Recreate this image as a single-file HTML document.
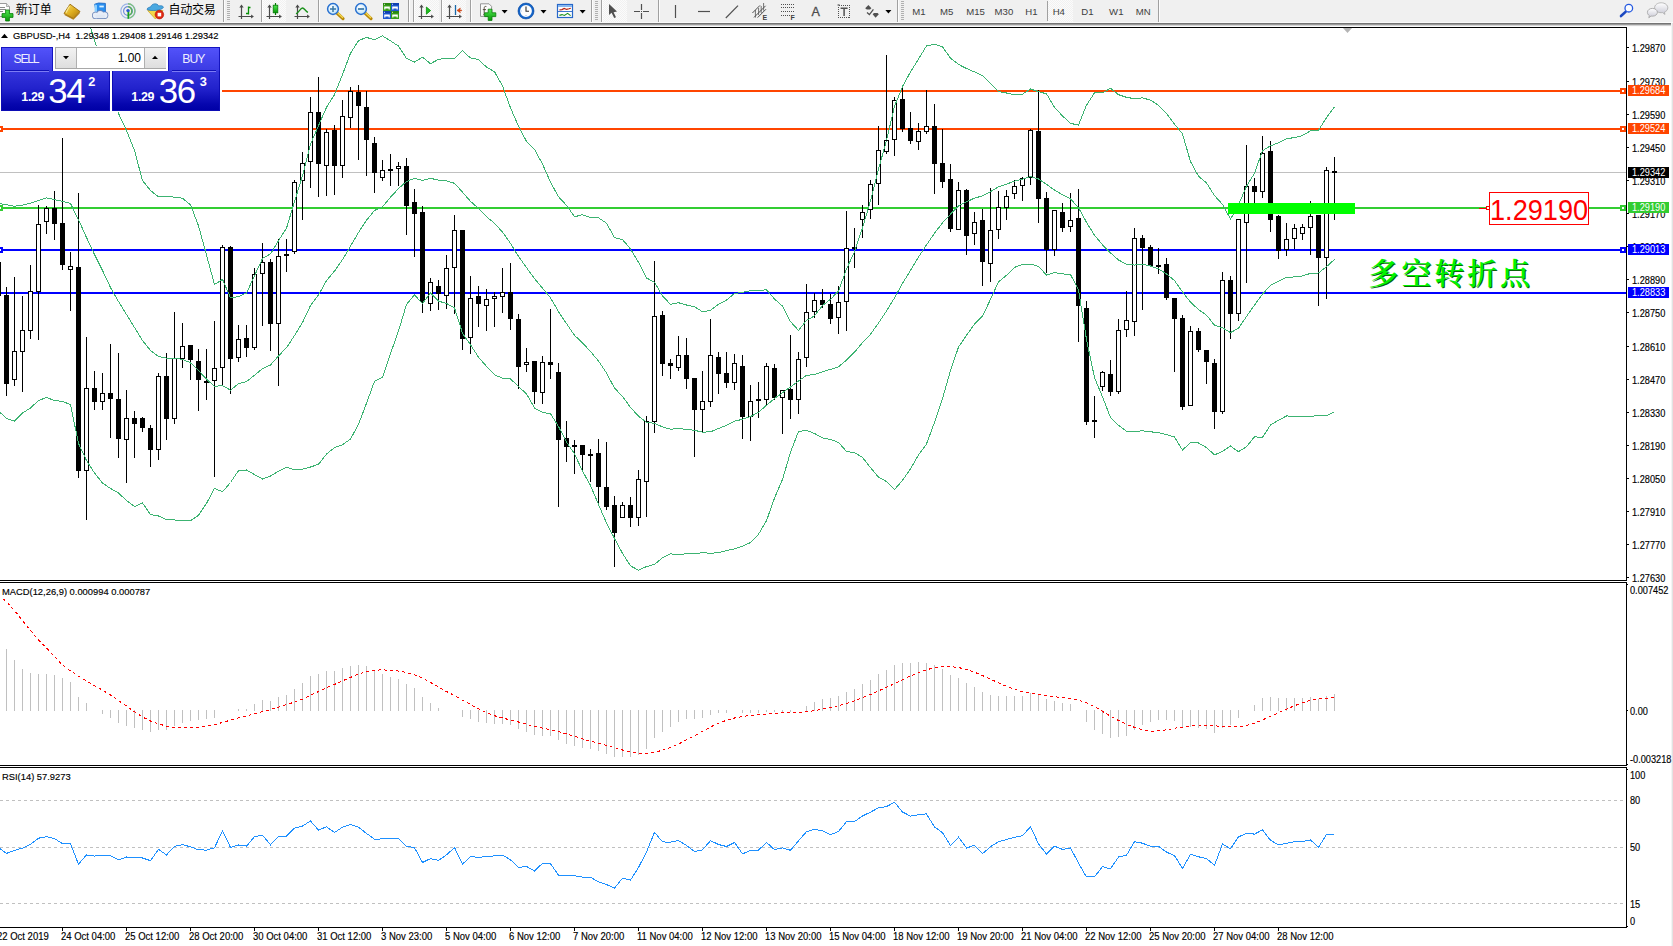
<!DOCTYPE html><html lang="zh"><head><meta charset="utf-8"><title>GBPUSD-,H4</title><style>
html,body{margin:0;padding:0;background:#fff;}
body{width:1673px;height:946px;overflow:hidden;position:relative;font-family:"Liberation Sans", sans-serif;font-size:9.6px;color:#000;}
.abs{position:absolute;}
.t{position:absolute;white-space:nowrap;line-height:12px;height:12px;}
.tt{position:absolute;white-space:nowrap;line-height:12px;height:12px;font-size:9.7px;transform:scaleX(0.966);transform-origin:0 0;-webkit-text-stroke:0.15px #000;}
.ax{position:absolute;left:1632px;white-space:nowrap;line-height:12px;height:12px;font-size:10px;transform:scaleX(0.92);transform-origin:0 0;-webkit-text-stroke:0.15px #000;}
.pl{position:absolute;left:1628px;width:41px;height:11px;color:#fff;font-size:10px;line-height:12px;white-space:nowrap;overflow:hidden;}
.pl span{display:block;transform:scaleX(0.92);transform-origin:0 0;margin-left:4px;}
.tl{position:absolute;top:930.5px;white-space:nowrap;line-height:12px;font-size:10px;transform:scaleX(0.95);transform-origin:0 0;-webkit-text-stroke:0.15px #000;}
.tb{position:absolute;top:0;height:22px;}
</style></head><body>
<div class="abs" style="left:0;top:0;width:1673px;height:22px;background:#f0f0f0"></div>
<div class="abs" style="left:0;top:22px;width:1673px;height:1px;background:#fafafa"></div>
<div class="abs" style="left:0;top:23px;width:1673px;height:1px;background:#747474"></div>
<div class="abs" style="left:0;top:24px;width:1673px;height:1px;background:#9c9c9c"></div>
<div class="abs" style="left:0;top:25px;width:1673px;height:1px;background:#d4d4d4"></div>
<div class="abs" style="left:0;top:26px;width:1673px;height:1px;background:#fbfbfb"></div>
<svg class="abs" style="left:0;top:0" width="1673" height="23" viewBox="0 0 1673 23">
<defs><pattern id="chk" width="2" height="2" patternUnits="userSpaceOnUse"><rect width="2" height="2" fill="#fbfbfb"/><rect width="1" height="1" fill="#f1f1f1"/><rect x="1" y="1" width="1" height="1" fill="#f1f1f1"/></pattern><linearGradient id="gold" x1="0" y1="0" x2="1" y2="1"><stop offset="0" stop-color="#f8e070"/><stop offset="0.5" stop-color="#e0b020"/><stop offset="1" stop-color="#a87410"/></linearGradient><linearGradient id="grn" x1="0" y1="0" x2="0" y2="1"><stop offset="0" stop-color="#50e850"/><stop offset="1" stop-color="#089808"/></linearGradient><radialGradient id="lens" cx="0.4" cy="0.35" r="0.7"><stop offset="0" stop-color="#ffffff"/><stop offset="1" stop-color="#b8e0f8"/></radialGradient><linearGradient id="bub" x1="0" y1="0" x2="0" y2="1"><stop offset="0" stop-color="#ffffff"/><stop offset="1" stop-color="#c8c8d4"/></linearGradient></defs>
<path d="M-2 3.5 H6.5 L9.5 6.5 V16.5 H-2 Z" fill="#fdfdfd" stroke="#9a9a9a" stroke-width="1"/>
<path d="M6.5 3.5 V6.5 H9.5" fill="#e0e0e0" stroke="#9a9a9a" stroke-width="0.8"/>
<path d="M0 7.5 H5 M0 9.5 H6 M0 11.5 H3" stroke="#8a8a8a" stroke-width="1"/>
<path d="M5.6 10 H9.4 V13.6 H13 V17.4 H9.4 V21 H5.6 V17.4 H2 V13.6 H5.6 Z" fill="url(#grn)" stroke="#067a06" stroke-width="0.8"/>
<path d="M70 4.2 L80 11.5 L73.5 18.5 L64 13.5 Z" fill="url(#gold)" stroke="#9a6a08" stroke-width="0.9" stroke-linejoin="round"/>
<path d="M65 14.2 L73.4 18.6 L79.8 12 L79.6 13.6 L73.4 19.8 L64.4 15 Z" fill="#b07c12"/>
<path d="M69.5 6 L66 12.6" stroke="#fff2a0" stroke-width="1.2" opacity="0.8"/>
<path d="M94.6 4.2 L98.6 3 L105.4 3.4 V12.6 H96.4 Z" fill="#2a90f0" stroke="#1060c0" stroke-width="0.8"/>
<path d="M94.6 4.2 L97 5.2 V13.6 L94.6 12.6 Z" fill="#8cd0ff"/>
<rect x="99.4" y="5.6" width="4.4" height="1.8" fill="#d8f0ff"/>
<circle cx="95.6" cy="15.4" r="3.6" fill="#6c86b8"/>
<circle cx="100.2" cy="14.0" r="3.9" fill="#6c86b8"/>
<circle cx="104.6" cy="15.2" r="3.7" fill="#6c86b8"/>
<rect x="95.6" y="15" width="9" height="4" fill="#6c86b8"/>
<circle cx="95.6" cy="15.4" r="2.8" fill="#e8eef8"/>
<circle cx="100.2" cy="14.0" r="3.0999999999999996" fill="#e8eef8"/>
<circle cx="104.6" cy="15.2" r="2.9" fill="#e8eef8"/>
<rect x="95.6" y="14.6" width="9" height="3.6" fill="#e0e8f4"/>
<circle cx="128" cy="11" r="7.2" fill="none" stroke="#9ab4e8" stroke-width="1.2"/>
<circle cx="128" cy="11" r="4.4" fill="none" stroke="#6c8cd8" stroke-width="1.2"/>
<path d="M128 3.8 a7.2 7.2 0 0 1 2 14" fill="none" stroke="#7cc07c" stroke-width="1.4"/>
<path d="M128 6.6 a4.4 4.4 0 0 1 1.6 8.2" fill="none" stroke="#58b058" stroke-width="1.4"/>
<path d="M128.4 11 V18.8" stroke="#18a018" stroke-width="1.8"/>
<circle cx="128" cy="10.6" r="1.7" fill="#2858d0"/>
<path d="M147.6 10.5 L158 10 L163 10.6 L155.4 19 Z" fill="#f4d848" stroke="#c8a020" stroke-width="0.7"/>
<path d="M147 9.4 C147.4 7.2 150 7.4 151 6.6 C151.4 3.4 157.6 2.6 158.6 6 C160.4 5.4 163.4 5.6 163.4 7.4 C162 10.4 151 11.6 147 9.4 Z" fill="#4aa8e0" stroke="#2878b8" stroke-width="0.7"/>
<circle cx="159.4" cy="14.6" r="4.3" fill="#e02810" stroke="#b01808" stroke-width="0.6"/><rect x="157.6" y="12.8" width="3.6" height="3.6" fill="#fff"/>
<rect x="223" y="0" width="1" height="22" fill="#a0a0a0"/><rect x="224" y="0" width="1" height="22" fill="#fcfcfc"/>
<rect x="227" y="1" width="3" height="1" fill="#b0b0b0"/>
<rect x="227" y="3" width="3" height="1" fill="#b0b0b0"/>
<rect x="227" y="5" width="3" height="1" fill="#b0b0b0"/>
<rect x="227" y="7" width="3" height="1" fill="#b0b0b0"/>
<rect x="227" y="9" width="3" height="1" fill="#b0b0b0"/>
<rect x="227" y="11" width="3" height="1" fill="#b0b0b0"/>
<rect x="227" y="13" width="3" height="1" fill="#b0b0b0"/>
<rect x="227" y="15" width="3" height="1" fill="#b0b0b0"/>
<rect x="227" y="17" width="3" height="1" fill="#b0b0b0"/>
<rect x="227" y="19" width="3" height="1" fill="#b0b0b0"/>
<path d="M241.5 6 V19 M238.5 16.5 H252.5" stroke="#4a4a4a" stroke-width="1.2" fill="none"/>
<path d="M239.3 7.6 L241.5 4.6 L243.7 7.6 Z M251.1 14.4 L253.9 16.5 L251.1 18.6 Z" fill="#4a4a4a"/>
<path d="M248.5 6.5 V14.5 M248.5 7.5 H250.5 M246 13.5 H248.5" stroke="#089008" stroke-width="1.3" fill="none"/>
<rect x="261" y="0" width="1" height="22" fill="#a0a0a0"/><rect x="262" y="0" width="1" height="22" fill="#fcfcfc"/>
<rect x="263" y="0" width="23" height="22" fill="url(#chk)"/>
<path d="M269.5 6 V19 M266.5 16.5 H280.5" stroke="#4a4a4a" stroke-width="1.2" fill="none"/>
<path d="M267.3 7.6 L269.5 4.6 L271.7 7.6 Z M279.1 14.4 L281.9 16.5 L279.1 18.6 Z" fill="#4a4a4a"/>
<path d="M275.5 3 V15" stroke="#067806" stroke-width="1.2"/><rect x="273.2" y="5.2" width="4.6" height="7.6" fill="url(#grn)" stroke="#067806" stroke-width="0.8"/>
<path d="M297.5 6 V19 M294.5 16.5 H308.5" stroke="#4a4a4a" stroke-width="1.2" fill="none"/>
<path d="M295.3 7.6 L297.5 4.6 L299.7 7.6 Z M307.1 14.4 L309.9 16.5 L307.1 18.6 Z" fill="#4a4a4a"/>
<path d="M296 13.8 C299 12.6 300.4 8 302.4 8 C304.4 8 305.6 11.4 308 12.4" stroke="#189018" stroke-width="1.3" fill="none"/>
<rect x="318" y="0" width="1" height="22" fill="#a0a0a0"/><rect x="319" y="0" width="1" height="22" fill="#fcfcfc"/>
<path d="M337 13 L343 18.6" stroke="#b88808" stroke-width="3.2" stroke-linecap="round"/>
<path d="M337.4 12.6 L342.6 17.6" stroke="#f4d850" stroke-width="1.4" stroke-linecap="round"/>
<circle cx="333" cy="9" r="5.4" fill="url(#lens)" stroke="#2870d0" stroke-width="1.5"/>
<path d="M330 9 H336 M333 6 V12" stroke="#3878a8" stroke-width="1.5"/>
<path d="M365 13 L371 18.6" stroke="#b88808" stroke-width="3.2" stroke-linecap="round"/>
<path d="M365.4 12.6 L370.6 17.6" stroke="#f4d850" stroke-width="1.4" stroke-linecap="round"/>
<circle cx="361" cy="9" r="5.4" fill="url(#lens)" stroke="#2870d0" stroke-width="1.5"/>
<path d="M358 9 H364" stroke="#3878a8" stroke-width="1.7"/>
<rect x="383" y="3" width="8" height="8" fill="#3aa018"/>
<rect x="383" y="3" width="8" height="2.2" fill="#2a8810"/>
<path d="M384.2 6.4 H389.8 V9.6 H388.6 V8.6 H385.4 V9.6 H384.2 Z" fill="#fff"/>
<rect x="384" y="3.8" width="1" height="1" fill="#fff" opacity="0.8"/>
<rect x="391" y="3" width="8" height="8" fill="#2058d0"/>
<rect x="391" y="3" width="8" height="2.2" fill="#1040b0"/>
<path d="M392.2 6.4 H397.8 V9.6 H396.6 V8.6 H393.4 V9.6 H392.2 Z" fill="#fff"/>
<rect x="392" y="3.8" width="1" height="1" fill="#fff" opacity="0.8"/>
<rect x="383" y="11" width="8" height="8" fill="#2058d0"/>
<rect x="383" y="11" width="8" height="2.2" fill="#1040b0"/>
<path d="M384.2 14.4 H389.8 V17.6 H388.6 V16.6 H385.4 V17.6 H384.2 Z" fill="#fff"/>
<rect x="384" y="11.8" width="1" height="1" fill="#fff" opacity="0.8"/>
<rect x="391" y="11" width="8" height="8" fill="#3aa018"/>
<rect x="391" y="11" width="8" height="2.2" fill="#2a8810"/>
<path d="M392.2 14.4 H397.8 V17.6 H396.6 V16.6 H393.4 V17.6 H392.2 Z" fill="#fff"/>
<rect x="392" y="11.8" width="1" height="1" fill="#fff" opacity="0.8"/>
<rect x="408" y="0" width="1" height="22" fill="#a0a0a0"/><rect x="409" y="0" width="1" height="22" fill="#fcfcfc"/>
<rect x="413" y="0" width="1" height="22" fill="#a0a0a0"/><rect x="414" y="0" width="1" height="22" fill="#fcfcfc"/>
<rect x="415" y="0" width="24" height="22" fill="url(#chk)"/>
<path d="M421.5 6 V19 M418.5 16.5 H432.5" stroke="#4a4a4a" stroke-width="1.2" fill="none"/>
<path d="M419.3 7.6 L421.5 4.6 L423.7 7.6 Z M431.1 14.4 L433.9 16.5 L431.1 18.6 Z" fill="#4a4a4a"/>
<path d="M426.4 7 L430.6 10.6 L426.4 14.2 Z" fill="#20c020" stroke="#089008" stroke-width="0.8"/>
<rect x="441" y="0" width="1" height="22" fill="#a0a0a0"/><rect x="442" y="0" width="1" height="22" fill="#fcfcfc"/>
<rect x="443" y="0" width="23" height="22" fill="url(#chk)"/>
<path d="M449.5 6 V19 M446.5 16.5 H460.5" stroke="#4a4a4a" stroke-width="1.2" fill="none"/>
<path d="M447.3 7.6 L449.5 4.6 L451.7 7.6 Z M459.1 14.4 L461.9 16.5 L459.1 18.6 Z" fill="#4a4a4a"/>
<path d="M455.5 5 V15" stroke="#1868a8" stroke-width="1.3"/>
<path d="M457 10.4 L460.4 8 L459.6 10 H461.6 V10.8 H459.6 L460.4 12.8 Z" fill="#e04808" stroke="#c03000" stroke-width="0.5"/>
<rect x="470" y="0" width="1" height="22" fill="#a0a0a0"/><rect x="471" y="0" width="1" height="22" fill="#fcfcfc"/>
<path d="M480.5 3.8 H489 L491.6 6.4 V16.4 H480.5 Z" fill="#fafafa" stroke="#8a8a8a" stroke-width="0.9"/>
<path d="M486.4 6.6 C484.6 6 484.2 7 484.2 8.4 V13.4 C484.2 14.6 483.8 14.8 483 14.8 M482.8 9.6 H486" stroke="#4a4030" stroke-width="0.9" fill="none"/>
<path d="M488.2 9.2 H492 V12.8 H495.8 V16.6 H492 V20.4 H488.2 V16.6 H484.6 V12.8 H488.2 Z" fill="url(#grn)" stroke="#067a06" stroke-width="0.8"/>
<path d="M501.6 10 H507.6 L504.6 13.4 Z" fill="#000"/>
<circle cx="526" cy="11" r="7" fill="#fdfdfd" stroke="#1464c8" stroke-width="2.2"/>
<circle cx="526" cy="11" r="8" fill="none" stroke="#0c4aa0" stroke-width="0.6"/>
<path d="M526 6.6 V11.2 H529" stroke="#303030" stroke-width="1.1" fill="none"/>
<path d="M526 15 V15.8 M522 11 H521.4" stroke="#70a0e0" stroke-width="0.9"/>
<path d="M540.5 10 H546.5 L543.5 13.4 Z" fill="#000"/>
<rect x="557.5" y="4.5" width="15" height="13" fill="#fdfdfd" stroke="#2868c8" stroke-width="1.2"/>
<rect x="558" y="5" width="14" height="2" fill="#88b8f0"/>
<path d="M558 11.5 H572" stroke="#2868c8" stroke-width="0.9"/>
<path d="M559.4 10 L562 9.6 L564.2 8.4 L566.6 9.4 L569 8.8 L570.8 8.2" stroke="#b82010" stroke-width="1.1" fill="none"/>
<path d="M559.4 15.4 L562 14.6 L564.4 15.4 L567.6 13.4 L570.6 15.6" stroke="#189018" stroke-width="1.1" fill="none"/>
<path d="M579.6 10 H585.6 L582.6 13.4 Z" fill="#000"/>
<rect x="591" y="0" width="1" height="22" fill="#a0a0a0"/><rect x="592" y="0" width="1" height="22" fill="#fcfcfc"/>
<rect x="595" y="1" width="3" height="1" fill="#b0b0b0"/>
<rect x="595" y="3" width="3" height="1" fill="#b0b0b0"/>
<rect x="595" y="5" width="3" height="1" fill="#b0b0b0"/>
<rect x="595" y="7" width="3" height="1" fill="#b0b0b0"/>
<rect x="595" y="9" width="3" height="1" fill="#b0b0b0"/>
<rect x="595" y="11" width="3" height="1" fill="#b0b0b0"/>
<rect x="595" y="13" width="3" height="1" fill="#b0b0b0"/>
<rect x="595" y="15" width="3" height="1" fill="#b0b0b0"/>
<rect x="595" y="17" width="3" height="1" fill="#b0b0b0"/>
<rect x="595" y="19" width="3" height="1" fill="#b0b0b0"/>
<rect x="601" y="0" width="1" height="22" fill="#a0a0a0"/><rect x="602" y="0" width="1" height="22" fill="#fcfcfc"/>
<rect x="603" y="0" width="24" height="22" fill="url(#chk)"/>
<path d="M609 4 L609 15 L611.6 12.8 L614.2 18 L616 17.2 L613.6 12.2 L617 11.6 Z" fill="#505050"/>
<path d="M641.5 4 V10 M641.5 13 V19 M634 11.5 H640 M643 11.5 H649" stroke="#505050" stroke-width="1.2"/><rect x="641" y="11" width="1" height="1" fill="#505050"/>
<rect x="658" y="0" width="1" height="22" fill="#a0a0a0"/><rect x="659" y="0" width="1" height="22" fill="#fcfcfc"/>
<path d="M675.5 5 V18" stroke="#505050" stroke-width="1.2"/>
<path d="M698 11.5 H710" stroke="#505050" stroke-width="1.2"/>
<path d="M725.8 18 L738 5.6" stroke="#505050" stroke-width="1.2"/>
<path d="M752.4 13 L760 5.4 M754 17.4 L765.6 5.8 M757.6 17.6 L766 9.2" stroke="#505050" stroke-width="1"/>
<path d="M755.4 10 V17.6 M758.6 8 V15 M761.2 6 V13 M763.6 3 V10.6" stroke="#505050" stroke-width="0.8"/>
<text x="762.6" y="20" font-family="Liberation Sans, sans-serif" font-size="7" font-weight="bold" fill="#404040">E</text>
<path d="M781 4.5 H794" stroke="#505050" stroke-width="1" stroke-dasharray="1,1"/>
<path d="M781 7.5 H794" stroke="#505050" stroke-width="1" stroke-dasharray="1,1"/>
<path d="M781 11.5 H794" stroke="#505050" stroke-width="1" stroke-dasharray="1,1"/>
<path d="M781 15.5 H790" stroke="#505050" stroke-width="1" stroke-dasharray="1,1"/>
<text x="790.6" y="20" font-family="Liberation Sans, sans-serif" font-size="7" font-weight="bold" fill="#404040">F</text>
<text x="811.4" y="16" font-family="Liberation Sans, sans-serif" font-size="12.6" fill="#4c4c4c" stroke="#4c4c4c" stroke-width="0.3">A</text>
<rect x="838.5" y="5.5" width="11" height="12" fill="none" stroke="#505050" stroke-width="1" stroke-dasharray="1,1" shape-rendering="crispEdges"/>
<rect x="837.6" y="4.4" width="2" height="1.2" fill="#505050"/>
<path d="M840.6 8.2 H847.6 M844.1 8.2 V16" stroke="#505050" stroke-width="1.5"/>
<path d="M868.4 5 L871.4 8.2 L870 9.6 L866.8 9.6 L865.2 8.2 Z" fill="#505050"/>
<path d="M867 12.6 L869.4 14.6 L873.4 9.4" stroke="#505050" stroke-width="1.3" fill="none"/>
<path d="M872.6 14.2 L874 13 L877.6 13 L878.8 14.2 L875.6 17.8 Z" fill="#505050"/>
<path d="M885.4 10 H891.4 L888.4 13.4 Z" fill="#000"/>
<rect x="897" y="0" width="1" height="22" fill="#a0a0a0"/><rect x="898" y="0" width="1" height="22" fill="#fcfcfc"/>
<rect x="901" y="1" width="3" height="1" fill="#b0b0b0"/>
<rect x="901" y="3" width="3" height="1" fill="#b0b0b0"/>
<rect x="901" y="5" width="3" height="1" fill="#b0b0b0"/>
<rect x="901" y="7" width="3" height="1" fill="#b0b0b0"/>
<rect x="901" y="9" width="3" height="1" fill="#b0b0b0"/>
<rect x="901" y="11" width="3" height="1" fill="#b0b0b0"/>
<rect x="901" y="13" width="3" height="1" fill="#b0b0b0"/>
<rect x="901" y="15" width="3" height="1" fill="#b0b0b0"/>
<rect x="901" y="17" width="3" height="1" fill="#b0b0b0"/>
<rect x="901" y="19" width="3" height="1" fill="#b0b0b0"/>
<rect x="1048" y="0" width="25" height="22" fill="url(#chk)"/>
<rect x="1047" y="1" width="1" height="20" fill="#a0a0a0"/>
<text x="919" y="15" text-anchor="middle" font-family="Liberation Sans, sans-serif" font-size="9.6" fill="#404040">M1</text>
<text x="946.7" y="15" text-anchor="middle" font-family="Liberation Sans, sans-serif" font-size="9.6" fill="#404040">M5</text>
<text x="975.6" y="15" text-anchor="middle" font-family="Liberation Sans, sans-serif" font-size="9.6" fill="#404040">M15</text>
<text x="1003.9" y="15" text-anchor="middle" font-family="Liberation Sans, sans-serif" font-size="9.6" fill="#404040">M30</text>
<text x="1031.5" y="15" text-anchor="middle" font-family="Liberation Sans, sans-serif" font-size="9.6" fill="#404040">H1</text>
<text x="1058.8" y="15" text-anchor="middle" font-family="Liberation Sans, sans-serif" font-size="9.6" fill="#404040">H4</text>
<text x="1087.5" y="15" text-anchor="middle" font-family="Liberation Sans, sans-serif" font-size="9.6" fill="#404040">D1</text>
<text x="1116.3" y="15" text-anchor="middle" font-family="Liberation Sans, sans-serif" font-size="9.6" fill="#404040">W1</text>
<text x="1143.2" y="15" text-anchor="middle" font-family="Liberation Sans, sans-serif" font-size="9.6" fill="#404040">MN</text>
<rect x="1158" y="0" width="1" height="22" fill="#a0a0a0"/><rect x="1159" y="0" width="1" height="22" fill="#fcfcfc"/>
<path d="M1625.8 11.6 L1621 16" stroke="#1c48c0" stroke-width="2.6" stroke-linecap="round"/>
<circle cx="1628.8" cy="8.2" r="3.8" fill="#fafcff" stroke="#2458e0" stroke-width="1.3"/>
<path d="M1661.2 2.8 c3.8 0 6.6 2.2 6.6 5 c0 2 -1.4 3.6 -3.4 4.4 l0.6 2.2 l-2.4 -1.8 c-0.4 0 -0.9 0.1 -1.4 0.1 c-3.8 0 -6.6 -2.2 -6.6 -4.9 c0 -2.8 2.8 -5 6.6 -5 Z" fill="url(#bub)" stroke="#a8a8a8" stroke-width="0.8"/>
<path d="M1652.4 8.4 c2.8 0 5 1.7 5 3.9 c0 2.2 -2.2 3.9 -5 3.9 c-0.5 0 -1 -0.05 -1.4 -0.15 l-2.2 1.7 l0.5 -2.2 c-1.2 -0.7 -1.9 -1.9 -1.9 -3.25 c0 -2.2 2.2 -3.9 5 -3.9 Z" fill="url(#bub)" stroke="#a0a0a0" stroke-width="0.8"/>
</svg>
<div class="abs" style="left:15.8px;top:2px;font-family:'Liberation Sans','Noto Sans CJK SC',sans-serif;font-size:12px;line-height:17px;height:17px;white-space:nowrap;color:#000">新订单</div>
<div class="abs" style="left:168.6px;top:2px;font-family:'Liberation Sans','Noto Sans CJK SC',sans-serif;font-size:12px;line-height:17px;height:17px;white-space:nowrap;color:#000;letter-spacing:-0.3px">自动交易</div>
<svg class="abs" style="left:0;top:0" width="1673" height="946" viewBox="0 0 1673 946" shape-rendering="crispEdges">
<rect x="0" y="27" width="1627" height="1" fill="#000"/>
<rect x="0" y="580" width="1627" height="1" fill="#000"/>
<rect x="0" y="582" width="1627" height="1" fill="#000"/>
<rect x="0" y="765" width="1627" height="1" fill="#000"/>
<rect x="0" y="767" width="1627" height="1" fill="#000"/>
<rect x="0" y="927" width="1627" height="1" fill="#000"/>
<rect x="1626" y="27" width="1" height="554" fill="#000"/>
<rect x="1626" y="582" width="1" height="184" fill="#000"/>
<rect x="1626" y="767" width="1" height="161" fill="#000"/>
<path d="M1343 28 H1352 L1347.5 33 Z" fill="#b4b4b4" shape-rendering="auto"/>
<rect x="1671" y="23" width="1" height="923" fill="#f4f4f4"/><rect x="1672" y="23" width="1" height="923" fill="#e2e2e2"/>
<rect x="0" y="172" width="1626" height="1" fill="#c0c0c0"/>
<rect x="222" y="90" width="1404" height="2" fill="#ff4500"/>
<rect x="1620" y="88" width="6" height="6" fill="#ff4500"/><rect x="1622" y="90" width="2" height="2" fill="#fff"/>
<rect x="0" y="128" width="1626" height="2" fill="#ff4500"/>
<rect x="1620" y="126" width="6" height="6" fill="#ff4500"/><rect x="1622" y="128" width="2" height="2" fill="#fff"/>
<rect x="0" y="126" width="3" height="6" fill="#ff4500"/><rect x="0" y="128" width="1" height="2" fill="#fff"/>
<rect x="0" y="207" width="1626" height="2" fill="#32cd32"/>
<rect x="1620" y="205" width="6" height="6" fill="#32cd32"/><rect x="1622" y="207" width="2" height="2" fill="#fff"/>
<rect x="0" y="205" width="3" height="6" fill="#32cd32"/><rect x="0" y="207" width="1" height="2" fill="#fff"/>
<rect x="0" y="249" width="1626" height="2" fill="#0000ff"/>
<rect x="1620" y="247" width="6" height="6" fill="#0000ff"/><rect x="1622" y="249" width="2" height="2" fill="#fff"/>
<rect x="0" y="247" width="3" height="6" fill="#0000ff"/><rect x="0" y="249" width="1" height="2" fill="#fff"/>
<rect x="0" y="292" width="1626" height="2" fill="#0000ff"/>
<rect x="1627" y="47" width="2" height="1" fill="#000"/>
<rect x="1627" y="81" width="2" height="1" fill="#000"/>
<rect x="1627" y="114" width="2" height="1" fill="#000"/>
<rect x="1627" y="147" width="2" height="1" fill="#000"/>
<rect x="1627" y="180" width="2" height="1" fill="#000"/>
<rect x="1627" y="213" width="2" height="1" fill="#000"/>
<rect x="1627" y="246" width="2" height="1" fill="#000"/>
<rect x="1627" y="279" width="2" height="1" fill="#000"/>
<rect x="1627" y="312" width="2" height="1" fill="#000"/>
<rect x="1627" y="346" width="2" height="1" fill="#000"/>
<rect x="1627" y="379" width="2" height="1" fill="#000"/>
<rect x="1627" y="412" width="2" height="1" fill="#000"/>
<rect x="1627" y="445" width="2" height="1" fill="#000"/>
<rect x="1627" y="478" width="2" height="1" fill="#000"/>
<rect x="1627" y="511" width="2" height="1" fill="#000"/>
<rect x="1627" y="544" width="2" height="1" fill="#000"/>
<rect x="1627" y="577" width="2" height="1" fill="#000"/>
<rect x="1627" y="584" width="1" height="1" fill="#000"/>
<rect x="1627" y="710" width="1" height="1" fill="#000"/>
<rect x="1627" y="764" width="1" height="1" fill="#000"/>
<rect x="1627" y="769" width="1" height="1" fill="#000"/>
<rect x="1627" y="926" width="1" height="1" fill="#000"/>
<rect x="6" y="287" width="1" height="109" fill="#000"/>
<rect x="4" y="295" width="5" height="89" fill="#000"/>
<rect x="14" y="277" width="1" height="109" fill="#000"/>
<rect x="12" y="351" width="5" height="29" fill="#000"/>
<rect x="13" y="352" width="3" height="27" fill="#fff"/>
<rect x="22" y="296" width="1" height="96" fill="#000"/>
<rect x="20" y="330" width="5" height="22" fill="#000"/>
<rect x="21" y="331" width="3" height="20" fill="#fff"/>
<rect x="30" y="265" width="1" height="74" fill="#000"/>
<rect x="28" y="291" width="5" height="40" fill="#000"/>
<rect x="29" y="292" width="3" height="38" fill="#fff"/>
<rect x="38" y="205" width="1" height="135" fill="#000"/>
<rect x="36" y="224" width="5" height="68" fill="#000"/>
<rect x="37" y="225" width="3" height="66" fill="#fff"/>
<rect x="46" y="206" width="1" height="28" fill="#000"/>
<rect x="44" y="208" width="5" height="14" fill="#000"/>
<rect x="45" y="209" width="3" height="12" fill="#fff"/>
<rect x="54" y="191" width="1" height="49" fill="#000"/>
<rect x="52" y="208" width="5" height="16" fill="#000"/>
<rect x="62" y="138" width="1" height="132" fill="#000"/>
<rect x="60" y="223" width="5" height="42" fill="#000"/>
<rect x="70" y="252" width="1" height="59" fill="#000"/>
<rect x="68" y="266" width="5" height="4" fill="#000"/>
<rect x="69" y="267" width="3" height="2" fill="#fff"/>
<rect x="78" y="193" width="1" height="285" fill="#000"/>
<rect x="76" y="267" width="5" height="204" fill="#000"/>
<rect x="86" y="337" width="1" height="183" fill="#000"/>
<rect x="84" y="388" width="5" height="83" fill="#000"/>
<rect x="85" y="389" width="3" height="81" fill="#fff"/>
<rect x="94" y="371" width="1" height="39" fill="#000"/>
<rect x="92" y="388" width="5" height="14" fill="#000"/>
<rect x="102" y="373" width="1" height="37" fill="#000"/>
<rect x="100" y="393" width="5" height="9" fill="#000"/>
<rect x="101" y="394" width="3" height="7" fill="#fff"/>
<rect x="110" y="344" width="1" height="94" fill="#000"/>
<rect x="108" y="393" width="5" height="6" fill="#000"/>
<rect x="118" y="353" width="1" height="105" fill="#000"/>
<rect x="116" y="399" width="5" height="40" fill="#000"/>
<rect x="126" y="390" width="1" height="93" fill="#000"/>
<rect x="124" y="418" width="5" height="22" fill="#000"/>
<rect x="125" y="419" width="3" height="20" fill="#fff"/>
<rect x="134" y="411" width="1" height="47" fill="#000"/>
<rect x="132" y="418" width="5" height="6" fill="#000"/>
<rect x="142" y="417" width="1" height="15" fill="#000"/>
<rect x="140" y="418" width="5" height="10" fill="#000"/>
<rect x="150" y="425" width="1" height="42" fill="#000"/>
<rect x="148" y="428" width="5" height="22" fill="#000"/>
<rect x="158" y="373" width="1" height="87" fill="#000"/>
<rect x="156" y="376" width="5" height="74" fill="#000"/>
<rect x="157" y="377" width="3" height="72" fill="#fff"/>
<rect x="166" y="353" width="1" height="87" fill="#000"/>
<rect x="164" y="376" width="5" height="43" fill="#000"/>
<rect x="174" y="312" width="1" height="112" fill="#000"/>
<rect x="172" y="358" width="5" height="61" fill="#000"/>
<rect x="173" y="359" width="3" height="59" fill="#fff"/>
<rect x="182" y="323" width="1" height="45" fill="#000"/>
<rect x="180" y="346" width="5" height="13" fill="#000"/>
<rect x="181" y="347" width="3" height="11" fill="#fff"/>
<rect x="190" y="345" width="1" height="35" fill="#000"/>
<rect x="188" y="345" width="5" height="15" fill="#000"/>
<rect x="198" y="349" width="1" height="62" fill="#000"/>
<rect x="196" y="361" width="5" height="19" fill="#000"/>
<rect x="206" y="349" width="1" height="51" fill="#000"/>
<rect x="204" y="381" width="5" height="2" fill="#000"/>
<rect x="214" y="321" width="1" height="156" fill="#000"/>
<rect x="212" y="368" width="5" height="13" fill="#000"/>
<rect x="213" y="369" width="3" height="11" fill="#fff"/>
<rect x="222" y="245" width="1" height="141" fill="#000"/>
<rect x="220" y="247" width="5" height="121" fill="#000"/>
<rect x="221" y="248" width="3" height="119" fill="#fff"/>
<rect x="230" y="246" width="1" height="148" fill="#000"/>
<rect x="228" y="247" width="5" height="112" fill="#000"/>
<rect x="238" y="325" width="1" height="37" fill="#000"/>
<rect x="236" y="339" width="5" height="19" fill="#000"/>
<rect x="237" y="340" width="3" height="17" fill="#fff"/>
<rect x="246" y="325" width="1" height="32" fill="#000"/>
<rect x="244" y="338" width="5" height="10" fill="#000"/>
<rect x="254" y="268" width="1" height="82" fill="#000"/>
<rect x="252" y="274" width="5" height="74" fill="#000"/>
<rect x="253" y="275" width="3" height="72" fill="#fff"/>
<rect x="262" y="243" width="1" height="83" fill="#000"/>
<rect x="260" y="262" width="5" height="12" fill="#000"/>
<rect x="261" y="263" width="3" height="10" fill="#fff"/>
<rect x="270" y="259" width="1" height="92" fill="#000"/>
<rect x="268" y="262" width="5" height="62" fill="#000"/>
<rect x="278" y="239" width="1" height="147" fill="#000"/>
<rect x="276" y="256" width="5" height="68" fill="#000"/>
<rect x="277" y="257" width="3" height="66" fill="#fff"/>
<rect x="286" y="239" width="1" height="33" fill="#000"/>
<rect x="284" y="254" width="5" height="2" fill="#000"/>
<rect x="294" y="180" width="1" height="74" fill="#000"/>
<rect x="292" y="182" width="5" height="70" fill="#000"/>
<rect x="293" y="183" width="3" height="68" fill="#fff"/>
<rect x="302" y="152" width="1" height="68" fill="#000"/>
<rect x="300" y="163" width="5" height="18" fill="#000"/>
<rect x="301" y="164" width="3" height="16" fill="#fff"/>
<rect x="310" y="97" width="1" height="91" fill="#000"/>
<rect x="308" y="112" width="5" height="50" fill="#000"/>
<rect x="309" y="113" width="3" height="48" fill="#fff"/>
<rect x="318" y="77" width="1" height="120" fill="#000"/>
<rect x="316" y="112" width="5" height="52" fill="#000"/>
<rect x="326" y="129" width="1" height="67" fill="#000"/>
<rect x="324" y="132" width="5" height="34" fill="#000"/>
<rect x="325" y="133" width="3" height="32" fill="#fff"/>
<rect x="334" y="125" width="1" height="70" fill="#000"/>
<rect x="332" y="130" width="5" height="36" fill="#000"/>
<rect x="342" y="100" width="1" height="78" fill="#000"/>
<rect x="340" y="116" width="5" height="50" fill="#000"/>
<rect x="341" y="117" width="3" height="48" fill="#fff"/>
<rect x="350" y="87" width="1" height="41" fill="#000"/>
<rect x="348" y="91" width="5" height="27" fill="#000"/>
<rect x="349" y="92" width="3" height="25" fill="#fff"/>
<rect x="358" y="85" width="1" height="75" fill="#000"/>
<rect x="356" y="92" width="5" height="14" fill="#000"/>
<rect x="366" y="91" width="1" height="85" fill="#000"/>
<rect x="364" y="107" width="5" height="33" fill="#000"/>
<rect x="374" y="137" width="1" height="56" fill="#000"/>
<rect x="372" y="143" width="5" height="30" fill="#000"/>
<rect x="382" y="160" width="1" height="21" fill="#000"/>
<rect x="380" y="170" width="5" height="8" fill="#000"/>
<rect x="381" y="171" width="3" height="6" fill="#fff"/>
<rect x="390" y="154" width="1" height="32" fill="#000"/>
<rect x="388" y="169" width="5" height="2" fill="#000"/>
<rect x="398" y="162" width="1" height="24" fill="#000"/>
<rect x="396" y="166" width="5" height="3" fill="#000"/>
<rect x="397" y="167" width="3" height="1" fill="#fff"/>
<rect x="406" y="158" width="1" height="77" fill="#000"/>
<rect x="404" y="166" width="5" height="40" fill="#000"/>
<rect x="414" y="189" width="1" height="68" fill="#000"/>
<rect x="412" y="202" width="5" height="12" fill="#000"/>
<rect x="422" y="206" width="1" height="107" fill="#000"/>
<rect x="420" y="212" width="5" height="90" fill="#000"/>
<rect x="430" y="278" width="1" height="33" fill="#000"/>
<rect x="428" y="282" width="5" height="22" fill="#000"/>
<rect x="429" y="283" width="3" height="20" fill="#fff"/>
<rect x="438" y="280" width="1" height="30" fill="#000"/>
<rect x="436" y="286" width="5" height="8" fill="#000"/>
<rect x="446" y="255" width="1" height="54" fill="#000"/>
<rect x="444" y="268" width="5" height="28" fill="#000"/>
<rect x="445" y="269" width="3" height="26" fill="#fff"/>
<rect x="454" y="215" width="1" height="99" fill="#000"/>
<rect x="452" y="230" width="5" height="38" fill="#000"/>
<rect x="453" y="231" width="3" height="36" fill="#fff"/>
<rect x="462" y="230" width="1" height="120" fill="#000"/>
<rect x="460" y="230" width="5" height="109" fill="#000"/>
<rect x="470" y="276" width="1" height="78" fill="#000"/>
<rect x="468" y="298" width="5" height="40" fill="#000"/>
<rect x="469" y="299" width="3" height="38" fill="#fff"/>
<rect x="478" y="286" width="1" height="41" fill="#000"/>
<rect x="476" y="296" width="5" height="8" fill="#000"/>
<rect x="486" y="289" width="1" height="42" fill="#000"/>
<rect x="484" y="299" width="5" height="7" fill="#000"/>
<rect x="485" y="300" width="3" height="5" fill="#fff"/>
<rect x="494" y="292" width="1" height="35" fill="#000"/>
<rect x="492" y="296" width="5" height="3" fill="#000"/>
<rect x="493" y="297" width="3" height="1" fill="#fff"/>
<rect x="502" y="268" width="1" height="45" fill="#000"/>
<rect x="500" y="292" width="5" height="5" fill="#000"/>
<rect x="501" y="293" width="3" height="3" fill="#fff"/>
<rect x="510" y="263" width="1" height="67" fill="#000"/>
<rect x="508" y="292" width="5" height="27" fill="#000"/>
<rect x="518" y="314" width="1" height="75" fill="#000"/>
<rect x="516" y="319" width="5" height="48" fill="#000"/>
<rect x="526" y="348" width="1" height="24" fill="#000"/>
<rect x="524" y="362" width="5" height="3" fill="#000"/>
<rect x="525" y="363" width="3" height="1" fill="#fff"/>
<rect x="534" y="361" width="1" height="43" fill="#000"/>
<rect x="532" y="361" width="5" height="31" fill="#000"/>
<rect x="542" y="356" width="1" height="48" fill="#000"/>
<rect x="540" y="362" width="5" height="31" fill="#000"/>
<rect x="541" y="363" width="3" height="29" fill="#fff"/>
<rect x="550" y="309" width="1" height="70" fill="#000"/>
<rect x="548" y="362" width="5" height="3" fill="#000"/>
<rect x="558" y="363" width="1" height="144" fill="#000"/>
<rect x="556" y="372" width="5" height="68" fill="#000"/>
<rect x="566" y="421" width="1" height="41" fill="#000"/>
<rect x="564" y="438" width="5" height="9" fill="#000"/>
<rect x="574" y="440" width="1" height="34" fill="#000"/>
<rect x="572" y="445" width="5" height="2" fill="#000"/>
<rect x="582" y="445" width="1" height="27" fill="#000"/>
<rect x="580" y="445" width="5" height="10" fill="#000"/>
<rect x="590" y="449" width="1" height="33" fill="#000"/>
<rect x="588" y="454" width="5" height="2" fill="#000"/>
<rect x="598" y="439" width="1" height="67" fill="#000"/>
<rect x="596" y="453" width="5" height="34" fill="#000"/>
<rect x="606" y="442" width="1" height="68" fill="#000"/>
<rect x="604" y="487" width="5" height="20" fill="#000"/>
<rect x="614" y="496" width="1" height="71" fill="#000"/>
<rect x="612" y="505" width="5" height="28" fill="#000"/>
<rect x="622" y="502" width="1" height="16" fill="#000"/>
<rect x="620" y="505" width="5" height="13" fill="#000"/>
<rect x="621" y="506" width="3" height="11" fill="#fff"/>
<rect x="630" y="497" width="1" height="30" fill="#000"/>
<rect x="628" y="505" width="5" height="13" fill="#000"/>
<rect x="638" y="470" width="1" height="56" fill="#000"/>
<rect x="636" y="479" width="5" height="39" fill="#000"/>
<rect x="637" y="480" width="3" height="37" fill="#fff"/>
<rect x="646" y="416" width="1" height="101" fill="#000"/>
<rect x="644" y="421" width="5" height="61" fill="#000"/>
<rect x="645" y="422" width="3" height="59" fill="#fff"/>
<rect x="654" y="261" width="1" height="172" fill="#000"/>
<rect x="652" y="316" width="5" height="106" fill="#000"/>
<rect x="653" y="317" width="3" height="104" fill="#fff"/>
<rect x="662" y="311" width="1" height="65" fill="#000"/>
<rect x="660" y="315" width="5" height="49" fill="#000"/>
<rect x="670" y="359" width="1" height="20" fill="#000"/>
<rect x="668" y="363" width="5" height="3" fill="#000"/>
<rect x="678" y="336" width="1" height="35" fill="#000"/>
<rect x="676" y="355" width="5" height="13" fill="#000"/>
<rect x="677" y="356" width="3" height="11" fill="#fff"/>
<rect x="686" y="338" width="1" height="51" fill="#000"/>
<rect x="684" y="355" width="5" height="24" fill="#000"/>
<rect x="694" y="378" width="1" height="79" fill="#000"/>
<rect x="692" y="378" width="5" height="32" fill="#000"/>
<rect x="702" y="371" width="1" height="61" fill="#000"/>
<rect x="700" y="401" width="5" height="9" fill="#000"/>
<rect x="701" y="402" width="3" height="7" fill="#fff"/>
<rect x="710" y="319" width="1" height="88" fill="#000"/>
<rect x="708" y="355" width="5" height="47" fill="#000"/>
<rect x="709" y="356" width="3" height="45" fill="#fff"/>
<rect x="718" y="352" width="1" height="42" fill="#000"/>
<rect x="716" y="357" width="5" height="17" fill="#000"/>
<rect x="726" y="352" width="1" height="36" fill="#000"/>
<rect x="724" y="373" width="5" height="10" fill="#000"/>
<rect x="734" y="354" width="1" height="36" fill="#000"/>
<rect x="732" y="363" width="5" height="20" fill="#000"/>
<rect x="733" y="364" width="3" height="18" fill="#fff"/>
<rect x="742" y="355" width="1" height="84" fill="#000"/>
<rect x="740" y="366" width="5" height="51" fill="#000"/>
<rect x="750" y="385" width="1" height="56" fill="#000"/>
<rect x="748" y="401" width="5" height="16" fill="#000"/>
<rect x="749" y="402" width="3" height="14" fill="#fff"/>
<rect x="758" y="382" width="1" height="36" fill="#000"/>
<rect x="756" y="399" width="5" height="2" fill="#000"/>
<rect x="766" y="363" width="1" height="43" fill="#000"/>
<rect x="764" y="366" width="5" height="34" fill="#000"/>
<rect x="765" y="367" width="3" height="32" fill="#fff"/>
<rect x="774" y="364" width="1" height="36" fill="#000"/>
<rect x="772" y="368" width="5" height="30" fill="#000"/>
<rect x="782" y="390" width="1" height="44" fill="#000"/>
<rect x="780" y="390" width="5" height="8" fill="#000"/>
<rect x="781" y="391" width="3" height="6" fill="#fff"/>
<rect x="790" y="335" width="1" height="84" fill="#000"/>
<rect x="788" y="389" width="5" height="11" fill="#000"/>
<rect x="798" y="352" width="1" height="62" fill="#000"/>
<rect x="796" y="359" width="5" height="41" fill="#000"/>
<rect x="797" y="360" width="3" height="39" fill="#fff"/>
<rect x="806" y="284" width="1" height="83" fill="#000"/>
<rect x="804" y="312" width="5" height="46" fill="#000"/>
<rect x="805" y="313" width="3" height="44" fill="#fff"/>
<rect x="814" y="293" width="1" height="25" fill="#000"/>
<rect x="812" y="300" width="5" height="12" fill="#000"/>
<rect x="813" y="301" width="3" height="10" fill="#fff"/>
<rect x="822" y="289" width="1" height="19" fill="#000"/>
<rect x="820" y="300" width="5" height="5" fill="#000"/>
<rect x="830" y="294" width="1" height="30" fill="#000"/>
<rect x="828" y="304" width="5" height="15" fill="#000"/>
<rect x="838" y="286" width="1" height="48" fill="#000"/>
<rect x="836" y="302" width="5" height="16" fill="#000"/>
<rect x="837" y="303" width="3" height="14" fill="#fff"/>
<rect x="846" y="211" width="1" height="120" fill="#000"/>
<rect x="844" y="248" width="5" height="54" fill="#000"/>
<rect x="845" y="249" width="3" height="52" fill="#fff"/>
<rect x="854" y="228" width="1" height="40" fill="#000"/>
<rect x="852" y="247" width="5" height="2" fill="#000"/>
<rect x="862" y="205" width="1" height="33" fill="#000"/>
<rect x="860" y="212" width="5" height="8" fill="#000"/>
<rect x="861" y="213" width="3" height="6" fill="#fff"/>
<rect x="870" y="180" width="1" height="39" fill="#000"/>
<rect x="868" y="184" width="5" height="26" fill="#000"/>
<rect x="869" y="185" width="3" height="24" fill="#fff"/>
<rect x="878" y="126" width="1" height="79" fill="#000"/>
<rect x="876" y="150" width="5" height="34" fill="#000"/>
<rect x="877" y="151" width="3" height="32" fill="#fff"/>
<rect x="886" y="55" width="1" height="99" fill="#000"/>
<rect x="884" y="140" width="5" height="12" fill="#000"/>
<rect x="885" y="141" width="3" height="10" fill="#fff"/>
<rect x="894" y="97" width="1" height="59" fill="#000"/>
<rect x="892" y="100" width="5" height="40" fill="#000"/>
<rect x="893" y="101" width="3" height="38" fill="#fff"/>
<rect x="902" y="87" width="1" height="45" fill="#000"/>
<rect x="900" y="99" width="5" height="30" fill="#000"/>
<rect x="910" y="112" width="1" height="32" fill="#000"/>
<rect x="908" y="128" width="5" height="13" fill="#000"/>
<rect x="918" y="123" width="1" height="27" fill="#000"/>
<rect x="916" y="131" width="5" height="11" fill="#000"/>
<rect x="917" y="132" width="3" height="9" fill="#fff"/>
<rect x="926" y="90" width="1" height="44" fill="#000"/>
<rect x="924" y="126" width="5" height="6" fill="#000"/>
<rect x="925" y="127" width="3" height="4" fill="#fff"/>
<rect x="934" y="104" width="1" height="90" fill="#000"/>
<rect x="932" y="126" width="5" height="38" fill="#000"/>
<rect x="942" y="129" width="1" height="59" fill="#000"/>
<rect x="940" y="163" width="5" height="19" fill="#000"/>
<rect x="950" y="164" width="1" height="68" fill="#000"/>
<rect x="948" y="179" width="5" height="50" fill="#000"/>
<rect x="958" y="182" width="1" height="48" fill="#000"/>
<rect x="956" y="190" width="5" height="40" fill="#000"/>
<rect x="957" y="191" width="3" height="38" fill="#fff"/>
<rect x="966" y="189" width="1" height="66" fill="#000"/>
<rect x="964" y="190" width="5" height="46" fill="#000"/>
<rect x="974" y="212" width="1" height="33" fill="#000"/>
<rect x="972" y="222" width="5" height="12" fill="#000"/>
<rect x="973" y="223" width="3" height="10" fill="#fff"/>
<rect x="982" y="209" width="1" height="77" fill="#000"/>
<rect x="980" y="220" width="5" height="42" fill="#000"/>
<rect x="990" y="188" width="1" height="94" fill="#000"/>
<rect x="988" y="230" width="5" height="34" fill="#000"/>
<rect x="989" y="231" width="3" height="32" fill="#fff"/>
<rect x="998" y="191" width="1" height="48" fill="#000"/>
<rect x="996" y="207" width="5" height="23" fill="#000"/>
<rect x="997" y="208" width="3" height="21" fill="#fff"/>
<rect x="1006" y="190" width="1" height="30" fill="#000"/>
<rect x="1004" y="196" width="5" height="12" fill="#000"/>
<rect x="1005" y="197" width="3" height="10" fill="#fff"/>
<rect x="1014" y="180" width="1" height="19" fill="#000"/>
<rect x="1012" y="186" width="5" height="8" fill="#000"/>
<rect x="1013" y="187" width="3" height="6" fill="#fff"/>
<rect x="1022" y="177" width="1" height="24" fill="#000"/>
<rect x="1020" y="178" width="5" height="8" fill="#000"/>
<rect x="1021" y="179" width="3" height="6" fill="#fff"/>
<rect x="1030" y="129" width="1" height="56" fill="#000"/>
<rect x="1028" y="130" width="5" height="48" fill="#000"/>
<rect x="1029" y="131" width="3" height="46" fill="#fff"/>
<rect x="1038" y="90" width="1" height="133" fill="#000"/>
<rect x="1036" y="131" width="5" height="68" fill="#000"/>
<rect x="1046" y="192" width="1" height="81" fill="#000"/>
<rect x="1044" y="198" width="5" height="52" fill="#000"/>
<rect x="1054" y="210" width="1" height="46" fill="#000"/>
<rect x="1052" y="210" width="5" height="40" fill="#000"/>
<rect x="1053" y="211" width="3" height="38" fill="#fff"/>
<rect x="1062" y="203" width="1" height="29" fill="#000"/>
<rect x="1060" y="212" width="5" height="16" fill="#000"/>
<rect x="1070" y="193" width="1" height="39" fill="#000"/>
<rect x="1068" y="220" width="5" height="7" fill="#000"/>
<rect x="1069" y="221" width="3" height="5" fill="#fff"/>
<rect x="1078" y="189" width="1" height="153" fill="#000"/>
<rect x="1076" y="218" width="5" height="88" fill="#000"/>
<rect x="1086" y="301" width="1" height="124" fill="#000"/>
<rect x="1084" y="308" width="5" height="114" fill="#000"/>
<rect x="1094" y="396" width="1" height="42" fill="#000"/>
<rect x="1092" y="420" width="5" height="2" fill="#000"/>
<rect x="1102" y="371" width="1" height="20" fill="#000"/>
<rect x="1100" y="372" width="5" height="15" fill="#000"/>
<rect x="1101" y="373" width="3" height="13" fill="#fff"/>
<rect x="1110" y="360" width="1" height="36" fill="#000"/>
<rect x="1108" y="374" width="5" height="18" fill="#000"/>
<rect x="1118" y="319" width="1" height="75" fill="#000"/>
<rect x="1116" y="330" width="5" height="62" fill="#000"/>
<rect x="1117" y="331" width="3" height="60" fill="#fff"/>
<rect x="1126" y="291" width="1" height="46" fill="#000"/>
<rect x="1124" y="320" width="5" height="10" fill="#000"/>
<rect x="1125" y="321" width="3" height="8" fill="#fff"/>
<rect x="1134" y="228" width="1" height="108" fill="#000"/>
<rect x="1132" y="238" width="5" height="84" fill="#000"/>
<rect x="1133" y="239" width="3" height="82" fill="#fff"/>
<rect x="1142" y="235" width="1" height="75" fill="#000"/>
<rect x="1140" y="238" width="5" height="10" fill="#000"/>
<rect x="1150" y="245" width="1" height="21" fill="#000"/>
<rect x="1148" y="247" width="5" height="19" fill="#000"/>
<rect x="1158" y="248" width="1" height="26" fill="#000"/>
<rect x="1156" y="265" width="5" height="2" fill="#000"/>
<rect x="1166" y="258" width="1" height="42" fill="#000"/>
<rect x="1164" y="264" width="5" height="34" fill="#000"/>
<rect x="1174" y="298" width="1" height="74" fill="#000"/>
<rect x="1172" y="298" width="5" height="21" fill="#000"/>
<rect x="1182" y="315" width="1" height="95" fill="#000"/>
<rect x="1180" y="318" width="5" height="89" fill="#000"/>
<rect x="1190" y="326" width="1" height="80" fill="#000"/>
<rect x="1188" y="331" width="5" height="75" fill="#000"/>
<rect x="1189" y="332" width="3" height="73" fill="#fff"/>
<rect x="1198" y="328" width="1" height="24" fill="#000"/>
<rect x="1196" y="331" width="5" height="19" fill="#000"/>
<rect x="1206" y="350" width="1" height="34" fill="#000"/>
<rect x="1204" y="350" width="5" height="12" fill="#000"/>
<rect x="1214" y="359" width="1" height="70" fill="#000"/>
<rect x="1212" y="363" width="5" height="49" fill="#000"/>
<rect x="1222" y="272" width="1" height="142" fill="#000"/>
<rect x="1220" y="280" width="5" height="132" fill="#000"/>
<rect x="1221" y="281" width="3" height="130" fill="#fff"/>
<rect x="1230" y="276" width="1" height="63" fill="#000"/>
<rect x="1228" y="280" width="5" height="34" fill="#000"/>
<rect x="1238" y="219" width="1" height="102" fill="#000"/>
<rect x="1236" y="219" width="5" height="95" fill="#000"/>
<rect x="1237" y="220" width="3" height="93" fill="#fff"/>
<rect x="1246" y="145" width="1" height="138" fill="#000"/>
<rect x="1244" y="186" width="5" height="37" fill="#000"/>
<rect x="1245" y="187" width="3" height="35" fill="#fff"/>
<rect x="1254" y="178" width="1" height="25" fill="#000"/>
<rect x="1252" y="186" width="5" height="6" fill="#000"/>
<rect x="1262" y="136" width="1" height="62" fill="#000"/>
<rect x="1260" y="153" width="5" height="39" fill="#000"/>
<rect x="1261" y="154" width="3" height="37" fill="#fff"/>
<rect x="1270" y="141" width="1" height="91" fill="#000"/>
<rect x="1268" y="151" width="5" height="69" fill="#000"/>
<rect x="1278" y="215" width="1" height="44" fill="#000"/>
<rect x="1276" y="216" width="5" height="35" fill="#000"/>
<rect x="1286" y="223" width="1" height="33" fill="#000"/>
<rect x="1284" y="239" width="5" height="11" fill="#000"/>
<rect x="1285" y="240" width="3" height="9" fill="#fff"/>
<rect x="1294" y="224" width="1" height="25" fill="#000"/>
<rect x="1292" y="228" width="5" height="11" fill="#000"/>
<rect x="1293" y="229" width="3" height="9" fill="#fff"/>
<rect x="1302" y="224" width="1" height="16" fill="#000"/>
<rect x="1300" y="227" width="5" height="7" fill="#000"/>
<rect x="1301" y="228" width="3" height="5" fill="#fff"/>
<rect x="1310" y="201" width="1" height="54" fill="#000"/>
<rect x="1308" y="216" width="5" height="12" fill="#000"/>
<rect x="1309" y="217" width="3" height="10" fill="#fff"/>
<rect x="1318" y="215" width="1" height="91" fill="#000"/>
<rect x="1316" y="215" width="5" height="43" fill="#000"/>
<rect x="1326" y="167" width="1" height="132" fill="#000"/>
<rect x="1324" y="170" width="5" height="88" fill="#000"/>
<rect x="1325" y="171" width="3" height="86" fill="#fff"/>
<rect x="1334" y="157" width="1" height="63" fill="#000"/>
<rect x="1332" y="171" width="5" height="2" fill="#000"/>
<rect x="0" y="262" width="1" height="34" fill="#000"/>
<clipPath id="cm"><rect x="0" y="28" width="1626" height="552"/></clipPath>
<g clip-path="url(#cm)"><polyline points="6.5,-9.1 14.5,-8.4 22.5,-2.8 30.5,-1.6 38.5,0.3 46.5,-1.7 54.5,-1.3 62.5,1.1 70.5,2.5 78.5,-4.1 86.5,14.5 94.5,40.5 102.5,65.5 110.5,92.5 118.5,113.5 126.5,130.5 134.5,150.5 142.5,180.5 150.5,190.5 158.5,196.9 166.5,196.7 174.5,197.1 182.5,198.3 190.5,204.8 198.5,225.8 206.5,255.0 214.5,284.5 222.5,279.4 230.5,297.8 238.5,296.6 246.5,293.1 254.5,275.8 262.5,258.4 270.5,253.9 278.5,240.6 286.5,228.2 294.5,201.6 302.5,175.8 310.5,144.2 318.5,125.7 326.5,107.3 334.5,94.6 342.5,74.5 350.5,53.3 358.5,40.7 366.5,37.4 374.5,39.8 382.5,35.9 390.5,40.8 398.5,46.1 406.5,58.5 414.5,62.0 422.5,57.2 430.5,63.7 438.5,59.4 446.5,58.3 454.5,58.8 462.5,50.8 470.5,58.0 478.5,59.5 486.5,67.1 494.5,71.7 502.5,86.0 510.5,107.9 518.5,126.3 526.5,141.4 534.5,149.2 542.5,164.1 550.5,182.2 558.5,196.7 566.5,205.3 574.5,216.8 582.5,214.7 590.5,217.6 598.5,217.8 606.5,223.1 614.5,237.7 622.5,239.6 630.5,248.9 638.5,262.3 646.5,278.0 654.5,282.2 662.5,295.9 670.5,304.4 678.5,302.7 686.5,305.0 694.5,306.7 702.5,311.8 710.5,310.3 718.5,304.4 726.5,300.0 734.5,293.4 742.5,292.4 750.5,290.6 758.5,290.3 766.5,289.9 774.5,299.0 782.5,306.1 790.5,321.6 798.5,330.4 806.5,320.4 814.5,315.9 822.5,305.5 830.5,299.3 838.5,291.1 846.5,269.0 854.5,251.7 862.5,228.0 870.5,200.7 878.5,169.1 886.5,140.5 894.5,106.3 902.5,86.5 910.5,71.9 918.5,59.1 926.5,45.9 934.5,44.2 942.5,46.9 950.5,58.1 958.5,64.4 966.5,68.5 974.5,71.9 982.5,75.8 990.5,83.8 998.5,91.5 1006.5,93.0 1014.5,94.7 1022.5,94.2 1030.5,89.0 1038.5,91.7 1046.5,93.8 1054.5,107.4 1062.5,115.9 1070.5,123.3 1078.5,125.2 1086.5,105.2 1094.5,92.9 1102.5,92.8 1110.5,88.3 1118.5,94.7 1126.5,97.3 1134.5,98.7 1142.5,97.8 1150.5,100.2 1158.5,105.2 1166.5,113.4 1174.5,124.2 1182.5,133.9 1190.5,161.6 1198.5,176.2 1206.5,182.9 1214.5,195.6 1222.5,204.4 1230.5,219.1 1238.5,204.9 1246.5,186.3 1254.5,173.3 1262.5,150.7 1270.5,145.9 1278.5,142.7 1286.5,138.7 1294.5,137.6 1302.5,135.5 1310.5,130.8 1318.5,130.2 1326.5,117.7 1334.5,106.9" fill="none" stroke="#3cb371" stroke-width="1" /><polyline points="-2.0,203.5 6.5,204.7 14.5,206.3 22.5,205.1 30.5,203.2 38.5,200.4 46.5,197.9 54.5,199.6 62.5,201.3 70.5,203.5 78.5,219.7 86.5,237.5 94.5,254.5 102.5,270.5 110.5,287.5 118.5,301.5 126.5,314.5 134.5,327.5 142.5,340.5 150.5,350.5 158.5,356.4 166.5,358.2 174.5,358.5 182.5,359.3 190.5,362.8 198.5,370.5 206.5,379.2 214.5,386.4 222.5,385.6 230.5,390.2 238.5,383.6 246.5,381.6 254.5,375.2 262.5,368.7 270.5,365.0 278.5,355.9 286.5,347.7 294.5,335.6 302.5,322.5 310.5,305.6 318.5,295.0 326.5,280.7 334.5,271.1 342.5,259.6 350.5,246.2 358.5,232.5 366.5,220.3 374.5,210.5 382.5,206.7 390.5,197.2 398.5,188.6 406.5,181.5 414.5,178.4 422.5,180.4 430.5,178.3 438.5,180.2 446.5,180.9 454.5,183.3 462.5,192.1 470.5,201.4 478.5,208.4 486.5,216.7 494.5,223.3 502.5,232.1 510.5,243.4 518.5,256.4 526.5,267.6 534.5,278.6 542.5,288.2 550.5,297.9 558.5,311.6 566.5,323.6 574.5,335.3 582.5,342.9 590.5,351.5 598.5,361.1 606.5,373.0 614.5,388.1 622.5,396.4 630.5,407.4 638.5,416.2 646.5,422.3 654.5,423.3 662.5,426.9 670.5,429.2 678.5,428.6 686.5,429.4 694.5,430.3 702.5,432.2 710.5,431.8 718.5,428.5 726.5,425.3 734.5,421.2 742.5,419.3 750.5,416.6 758.5,412.3 766.5,405.3 774.5,398.5 782.5,392.8 790.5,386.9 798.5,380.9 806.5,375.4 814.5,374.6 822.5,371.7 830.5,369.4 838.5,366.8 846.5,360.2 854.5,352.2 862.5,342.7 870.5,334.2 878.5,323.1 886.5,311.0 894.5,297.9 902.5,283.4 910.5,270.4 918.5,257.0 926.5,244.9 934.5,233.2 942.5,222.8 950.5,214.2 958.5,205.8 966.5,201.9 974.5,198.1 982.5,195.9 990.5,191.6 998.5,186.8 1006.5,184.2 1014.5,181.1 1022.5,179.3 1030.5,176.6 1038.5,179.0 1046.5,184.4 1054.5,190.0 1062.5,194.9 1070.5,198.9 1078.5,207.6 1086.5,222.3 1094.5,235.2 1102.5,244.8 1110.5,252.9 1118.5,260.0 1126.5,264.3 1134.5,265.1 1142.5,264.3 1150.5,266.0 1158.5,268.9 1166.5,274.0 1174.5,280.6 1182.5,292.0 1190.5,302.1 1198.5,309.6 1206.5,315.2 1214.5,325.2 1222.5,327.9 1230.5,332.6 1238.5,328.3 1246.5,316.5 1254.5,305.1 1262.5,294.1 1270.5,285.4 1278.5,281.4 1286.5,277.4 1294.5,276.9 1302.5,275.9 1310.5,273.4 1318.5,273.0 1326.5,266.7 1334.5,259.4" fill="none" stroke="#3cb371" stroke-width="1" /><polyline points="-2.0,410.5 6.5,418.5 14.5,421.0 22.5,413.0 30.5,408.0 38.5,400.5 46.5,397.5 54.5,400.5 62.5,401.5 70.5,404.5 78.5,443.5 86.5,460.5 94.5,473.0 102.5,483.0 110.5,488.5 118.5,493.0 126.5,500.5 134.5,506.5 142.5,503.0 150.5,514.5 158.5,516.0 166.5,519.7 174.5,520.0 182.5,520.3 190.5,520.7 198.5,515.3 206.5,503.4 214.5,488.4 222.5,491.8 230.5,482.5 238.5,470.7 246.5,470.0 254.5,474.6 262.5,479.0 270.5,476.0 278.5,471.1 286.5,467.2 294.5,469.7 302.5,469.2 310.5,467.0 318.5,464.3 326.5,454.1 334.5,447.6 342.5,444.7 350.5,439.0 358.5,424.3 366.5,403.3 374.5,381.3 382.5,377.4 390.5,353.6 398.5,331.0 406.5,304.5 414.5,294.9 422.5,303.6 430.5,293.0 438.5,301.1 446.5,303.5 454.5,307.9 462.5,333.3 470.5,344.8 478.5,357.2 486.5,366.4 494.5,374.8 502.5,378.2 510.5,378.9 518.5,386.6 526.5,393.8 534.5,408.0 542.5,412.4 550.5,413.7 558.5,426.5 566.5,442.0 574.5,453.8 582.5,471.1 590.5,485.4 598.5,504.5 606.5,523.0 614.5,538.5 622.5,553.3 630.5,565.9 638.5,570.2 646.5,566.6 654.5,564.4 662.5,557.8 670.5,553.9 678.5,554.5 686.5,553.8 694.5,553.9 702.5,552.7 710.5,553.3 718.5,552.6 726.5,550.6 734.5,548.9 742.5,546.1 750.5,542.6 758.5,534.2 766.5,520.7 774.5,498.1 782.5,479.4 790.5,452.2 798.5,431.4 806.5,430.5 814.5,433.4 822.5,437.9 830.5,439.5 838.5,442.4 846.5,451.5 854.5,452.7 862.5,457.4 870.5,467.7 878.5,477.1 886.5,481.5 894.5,489.4 902.5,480.4 910.5,468.9 918.5,454.9 926.5,444.0 934.5,422.3 942.5,398.7 950.5,370.4 958.5,347.1 966.5,335.3 974.5,324.2 982.5,316.1 990.5,299.3 998.5,282.0 1006.5,275.3 1014.5,267.4 1022.5,264.4 1030.5,264.2 1038.5,266.3 1046.5,275.1 1054.5,272.6 1062.5,273.9 1070.5,274.5 1078.5,289.9 1086.5,339.5 1094.5,377.6 1102.5,396.8 1110.5,417.6 1118.5,425.3 1126.5,431.3 1134.5,431.4 1142.5,430.8 1150.5,431.8 1158.5,432.6 1166.5,434.5 1174.5,437.0 1182.5,450.1 1190.5,442.5 1198.5,443.0 1206.5,447.5 1214.5,454.9 1222.5,451.4 1230.5,446.1 1238.5,451.7 1246.5,446.7 1254.5,436.8 1262.5,437.4 1270.5,425.0 1278.5,420.2 1286.5,416.0 1294.5,416.1 1302.5,416.2 1310.5,416.1 1318.5,415.9 1326.5,415.7 1334.5,411.8" fill="none" stroke="#3cb371" stroke-width="1" /></g>
<rect x="6" y="649" width="1" height="62" fill="#c0c0c0"/>
<rect x="14" y="660" width="1" height="51" fill="#c0c0c0"/>
<rect x="22" y="669" width="1" height="42" fill="#c0c0c0"/>
<rect x="30" y="673" width="1" height="38" fill="#c0c0c0"/>
<rect x="38" y="674" width="1" height="37" fill="#c0c0c0"/>
<rect x="46" y="674" width="1" height="37" fill="#c0c0c0"/>
<rect x="54" y="675" width="1" height="36" fill="#c0c0c0"/>
<rect x="62" y="678" width="1" height="33" fill="#c0c0c0"/>
<rect x="70" y="682" width="1" height="29" fill="#c0c0c0"/>
<rect x="78" y="697" width="1" height="14" fill="#c0c0c0"/>
<rect x="86" y="703" width="1" height="8" fill="#c0c0c0"/>
<rect x="102" y="710" width="1" height="4" fill="#c0c0c0"/>
<rect x="110" y="710" width="1" height="8" fill="#c0c0c0"/>
<rect x="118" y="710" width="1" height="13" fill="#c0c0c0"/>
<rect x="126" y="710" width="1" height="16" fill="#c0c0c0"/>
<rect x="134" y="710" width="1" height="18" fill="#c0c0c0"/>
<rect x="142" y="710" width="1" height="20" fill="#c0c0c0"/>
<rect x="150" y="710" width="1" height="22" fill="#c0c0c0"/>
<rect x="158" y="710" width="1" height="20" fill="#c0c0c0"/>
<rect x="166" y="710" width="1" height="20" fill="#c0c0c0"/>
<rect x="174" y="710" width="1" height="16" fill="#c0c0c0"/>
<rect x="182" y="710" width="1" height="13" fill="#c0c0c0"/>
<rect x="190" y="710" width="1" height="11" fill="#c0c0c0"/>
<rect x="198" y="710" width="1" height="10" fill="#c0c0c0"/>
<rect x="206" y="710" width="1" height="9" fill="#c0c0c0"/>
<rect x="214" y="710" width="1" height="8" fill="#c0c0c0"/>
<rect x="238" y="709" width="1" height="2" fill="#c0c0c0"/>
<rect x="246" y="709" width="1" height="2" fill="#c0c0c0"/>
<rect x="254" y="704" width="1" height="7" fill="#c0c0c0"/>
<rect x="262" y="700" width="1" height="11" fill="#c0c0c0"/>
<rect x="270" y="701" width="1" height="10" fill="#c0c0c0"/>
<rect x="278" y="697" width="1" height="14" fill="#c0c0c0"/>
<rect x="286" y="695" width="1" height="16" fill="#c0c0c0"/>
<rect x="294" y="689" width="1" height="22" fill="#c0c0c0"/>
<rect x="302" y="683" width="1" height="28" fill="#c0c0c0"/>
<rect x="310" y="676" width="1" height="35" fill="#c0c0c0"/>
<rect x="318" y="674" width="1" height="37" fill="#c0c0c0"/>
<rect x="326" y="671" width="1" height="40" fill="#c0c0c0"/>
<rect x="334" y="671" width="1" height="40" fill="#c0c0c0"/>
<rect x="342" y="668" width="1" height="43" fill="#c0c0c0"/>
<rect x="350" y="666" width="1" height="45" fill="#c0c0c0"/>
<rect x="358" y="665" width="1" height="46" fill="#c0c0c0"/>
<rect x="366" y="666" width="1" height="45" fill="#c0c0c0"/>
<rect x="374" y="670" width="1" height="41" fill="#c0c0c0"/>
<rect x="382" y="674" width="1" height="37" fill="#c0c0c0"/>
<rect x="390" y="677" width="1" height="34" fill="#c0c0c0"/>
<rect x="398" y="679" width="1" height="32" fill="#c0c0c0"/>
<rect x="406" y="684" width="1" height="27" fill="#c0c0c0"/>
<rect x="414" y="688" width="1" height="23" fill="#c0c0c0"/>
<rect x="422" y="697" width="1" height="14" fill="#c0c0c0"/>
<rect x="430" y="703" width="1" height="8" fill="#c0c0c0"/>
<rect x="438" y="708" width="1" height="3" fill="#c0c0c0"/>
<rect x="462" y="710" width="1" height="7" fill="#c0c0c0"/>
<rect x="470" y="710" width="1" height="9" fill="#c0c0c0"/>
<rect x="478" y="710" width="1" height="12" fill="#c0c0c0"/>
<rect x="486" y="710" width="1" height="13" fill="#c0c0c0"/>
<rect x="494" y="710" width="1" height="14" fill="#c0c0c0"/>
<rect x="502" y="710" width="1" height="14" fill="#c0c0c0"/>
<rect x="510" y="710" width="1" height="15" fill="#c0c0c0"/>
<rect x="518" y="710" width="1" height="19" fill="#c0c0c0"/>
<rect x="526" y="710" width="1" height="22" fill="#c0c0c0"/>
<rect x="534" y="710" width="1" height="25" fill="#c0c0c0"/>
<rect x="542" y="710" width="1" height="26" fill="#c0c0c0"/>
<rect x="550" y="710" width="1" height="26" fill="#c0c0c0"/>
<rect x="558" y="710" width="1" height="30" fill="#c0c0c0"/>
<rect x="566" y="710" width="1" height="34" fill="#c0c0c0"/>
<rect x="574" y="710" width="1" height="36" fill="#c0c0c0"/>
<rect x="582" y="710" width="1" height="38" fill="#c0c0c0"/>
<rect x="590" y="710" width="1" height="39" fill="#c0c0c0"/>
<rect x="598" y="710" width="1" height="41" fill="#c0c0c0"/>
<rect x="606" y="710" width="1" height="44" fill="#c0c0c0"/>
<rect x="614" y="710" width="1" height="47" fill="#c0c0c0"/>
<rect x="622" y="710" width="1" height="47" fill="#c0c0c0"/>
<rect x="630" y="710" width="1" height="47" fill="#c0c0c0"/>
<rect x="638" y="710" width="1" height="45" fill="#c0c0c0"/>
<rect x="646" y="710" width="1" height="39" fill="#c0c0c0"/>
<rect x="654" y="710" width="1" height="28" fill="#c0c0c0"/>
<rect x="662" y="710" width="1" height="22" fill="#c0c0c0"/>
<rect x="670" y="710" width="1" height="17" fill="#c0c0c0"/>
<rect x="678" y="710" width="1" height="12" fill="#c0c0c0"/>
<rect x="686" y="710" width="1" height="9" fill="#c0c0c0"/>
<rect x="694" y="710" width="1" height="9" fill="#c0c0c0"/>
<rect x="702" y="710" width="1" height="8" fill="#c0c0c0"/>
<rect x="710" y="710" width="1" height="5" fill="#c0c0c0"/>
<rect x="718" y="710" width="1" height="3" fill="#c0c0c0"/>
<rect x="726" y="710" width="1" height="3" fill="#c0c0c0"/>
<rect x="742" y="710" width="1" height="3" fill="#c0c0c0"/>
<rect x="750" y="710" width="1" height="3" fill="#c0c0c0"/>
<rect x="758" y="710" width="1" height="3" fill="#c0c0c0"/>
<rect x="766" y="710" width="1" height="2" fill="#c0c0c0"/>
<rect x="774" y="710" width="1" height="2" fill="#c0c0c0"/>
<rect x="782" y="710" width="1" height="2" fill="#c0c0c0"/>
<rect x="790" y="710" width="1" height="2" fill="#c0c0c0"/>
<rect x="806" y="706" width="1" height="5" fill="#c0c0c0"/>
<rect x="814" y="702" width="1" height="9" fill="#c0c0c0"/>
<rect x="822" y="699" width="1" height="12" fill="#c0c0c0"/>
<rect x="830" y="698" width="1" height="13" fill="#c0c0c0"/>
<rect x="838" y="696" width="1" height="15" fill="#c0c0c0"/>
<rect x="846" y="692" width="1" height="19" fill="#c0c0c0"/>
<rect x="854" y="689" width="1" height="22" fill="#c0c0c0"/>
<rect x="862" y="684" width="1" height="27" fill="#c0c0c0"/>
<rect x="870" y="680" width="1" height="31" fill="#c0c0c0"/>
<rect x="878" y="674" width="1" height="37" fill="#c0c0c0"/>
<rect x="886" y="670" width="1" height="41" fill="#c0c0c0"/>
<rect x="894" y="665" width="1" height="46" fill="#c0c0c0"/>
<rect x="902" y="663" width="1" height="48" fill="#c0c0c0"/>
<rect x="910" y="663" width="1" height="48" fill="#c0c0c0"/>
<rect x="918" y="662" width="1" height="49" fill="#c0c0c0"/>
<rect x="926" y="663" width="1" height="48" fill="#c0c0c0"/>
<rect x="934" y="665" width="1" height="46" fill="#c0c0c0"/>
<rect x="942" y="669" width="1" height="42" fill="#c0c0c0"/>
<rect x="950" y="675" width="1" height="36" fill="#c0c0c0"/>
<rect x="958" y="678" width="1" height="33" fill="#c0c0c0"/>
<rect x="966" y="683" width="1" height="28" fill="#c0c0c0"/>
<rect x="974" y="687" width="1" height="24" fill="#c0c0c0"/>
<rect x="982" y="692" width="1" height="19" fill="#c0c0c0"/>
<rect x="990" y="695" width="1" height="16" fill="#c0c0c0"/>
<rect x="998" y="696" width="1" height="15" fill="#c0c0c0"/>
<rect x="1006" y="696" width="1" height="15" fill="#c0c0c0"/>
<rect x="1014" y="696" width="1" height="15" fill="#c0c0c0"/>
<rect x="1022" y="696" width="1" height="15" fill="#c0c0c0"/>
<rect x="1030" y="693" width="1" height="18" fill="#c0c0c0"/>
<rect x="1038" y="695" width="1" height="16" fill="#c0c0c0"/>
<rect x="1046" y="699" width="1" height="12" fill="#c0c0c0"/>
<rect x="1054" y="701" width="1" height="10" fill="#c0c0c0"/>
<rect x="1062" y="703" width="1" height="8" fill="#c0c0c0"/>
<rect x="1070" y="704" width="1" height="7" fill="#c0c0c0"/>
<rect x="1086" y="710" width="1" height="12" fill="#c0c0c0"/>
<rect x="1094" y="710" width="1" height="20" fill="#c0c0c0"/>
<rect x="1102" y="710" width="1" height="24" fill="#c0c0c0"/>
<rect x="1110" y="710" width="1" height="28" fill="#c0c0c0"/>
<rect x="1118" y="710" width="1" height="27" fill="#c0c0c0"/>
<rect x="1126" y="710" width="1" height="26" fill="#c0c0c0"/>
<rect x="1134" y="710" width="1" height="20" fill="#c0c0c0"/>
<rect x="1142" y="710" width="1" height="15" fill="#c0c0c0"/>
<rect x="1150" y="710" width="1" height="12" fill="#c0c0c0"/>
<rect x="1158" y="710" width="1" height="10" fill="#c0c0c0"/>
<rect x="1166" y="710" width="1" height="10" fill="#c0c0c0"/>
<rect x="1174" y="710" width="1" height="11" fill="#c0c0c0"/>
<rect x="1182" y="710" width="1" height="17" fill="#c0c0c0"/>
<rect x="1190" y="710" width="1" height="17" fill="#c0c0c0"/>
<rect x="1198" y="710" width="1" height="18" fill="#c0c0c0"/>
<rect x="1206" y="710" width="1" height="19" fill="#c0c0c0"/>
<rect x="1214" y="710" width="1" height="23" fill="#c0c0c0"/>
<rect x="1222" y="710" width="1" height="18" fill="#c0c0c0"/>
<rect x="1230" y="710" width="1" height="15" fill="#c0c0c0"/>
<rect x="1238" y="710" width="1" height="8" fill="#c0c0c0"/>
<rect x="1254" y="705" width="1" height="6" fill="#c0c0c0"/>
<rect x="1262" y="698" width="1" height="13" fill="#c0c0c0"/>
<rect x="1270" y="697" width="1" height="14" fill="#c0c0c0"/>
<rect x="1278" y="698" width="1" height="13" fill="#c0c0c0"/>
<rect x="1286" y="698" width="1" height="13" fill="#c0c0c0"/>
<rect x="1294" y="698" width="1" height="13" fill="#c0c0c0"/>
<rect x="1302" y="698" width="1" height="13" fill="#c0c0c0"/>
<rect x="1310" y="697" width="1" height="14" fill="#c0c0c0"/>
<rect x="1318" y="699" width="1" height="12" fill="#c0c0c0"/>
<rect x="1326" y="696" width="1" height="15" fill="#c0c0c0"/>
<rect x="1334" y="694" width="1" height="17" fill="#c0c0c0"/>
<polyline points="-2.0,595.5 6.5,601.5 14.5,610.5 22.5,620.5 30.5,630.5 38.5,640.0 46.5,648.0 54.5,656.5 62.5,665.0 70.5,670.9 78.5,676.2 86.5,681.0 94.5,685.6 102.5,690.1 110.5,695.0 118.5,700.5 126.5,706.1 134.5,711.7 142.5,717.0 150.5,721.0 158.5,723.9 166.5,726.1 174.5,727.5 182.5,728.0 190.5,727.8 198.5,727.1 206.5,726.2 214.5,724.9 222.5,722.4 230.5,720.2 238.5,717.9 246.5,716.0 254.5,713.9 262.5,711.7 270.5,709.5 278.5,707.1 286.5,704.5 294.5,702.1 302.5,699.1 310.5,695.4 318.5,691.5 326.5,687.8 334.5,684.5 342.5,680.9 350.5,677.4 358.5,674.1 366.5,671.6 374.5,670.2 382.5,669.9 390.5,670.2 398.5,671.1 406.5,672.5 414.5,674.7 422.5,678.2 430.5,682.4 438.5,687.0 446.5,691.5 454.5,695.6 462.5,700.1 470.5,704.6 478.5,708.8 486.5,712.7 494.5,715.7 502.5,718.0 510.5,720.0 518.5,722.0 526.5,724.3 534.5,726.3 542.5,728.1 550.5,729.7 558.5,731.6 566.5,733.9 574.5,736.3 582.5,738.9 590.5,741.1 598.5,743.3 606.5,745.4 614.5,747.7 622.5,750.0 630.5,751.8 638.5,753.0 646.5,753.4 654.5,752.2 662.5,750.3 670.5,747.5 678.5,744.0 686.5,739.9 694.5,735.7 702.5,731.4 710.5,727.0 718.5,723.1 726.5,720.3 734.5,718.0 742.5,716.5 750.5,715.5 758.5,714.8 766.5,714.0 774.5,713.2 782.5,712.9 790.5,712.7 798.5,712.4 806.5,711.9 814.5,710.7 822.5,709.1 830.5,707.4 838.5,705.7 846.5,703.5 854.5,700.9 862.5,697.8 870.5,694.4 878.5,690.9 886.5,687.4 894.5,683.6 902.5,679.7 910.5,676.0 918.5,672.7 926.5,669.8 934.5,667.7 942.5,666.5 950.5,666.6 958.5,667.5 966.5,669.5 974.5,672.2 982.5,675.5 990.5,679.1 998.5,682.9 1006.5,686.3 1014.5,689.4 1022.5,691.6 1030.5,693.3 1038.5,694.5 1046.5,695.9 1054.5,696.8 1062.5,697.6 1070.5,698.5 1078.5,700.0 1086.5,702.9 1094.5,706.7 1102.5,711.3 1110.5,716.2 1118.5,720.5 1126.5,724.4 1134.5,727.4 1142.5,729.7 1150.5,731.1 1158.5,730.9 1166.5,729.8 1174.5,728.3 1182.5,727.1 1190.5,725.9 1198.5,725.0 1206.5,725.0 1214.5,725.8 1222.5,726.4 1230.5,727.0 1238.5,726.8 1246.5,725.6 1254.5,723.1 1262.5,719.9 1270.5,716.4 1278.5,712.9 1286.5,709.1 1294.5,705.8 1302.5,702.7 1310.5,700.3 1318.5,699.1 1326.5,698.1 1334.5,697.6" fill="none" stroke="#ff0000" stroke-width="1" stroke-dasharray="3,3"/>
<line x1="0" y1="800.5" x2="1626" y2="800.5" stroke="#c0c0c0" stroke-width="1" stroke-dasharray="3,3"/>
<line x1="0" y1="847.5" x2="1626" y2="847.5" stroke="#c0c0c0" stroke-width="1" stroke-dasharray="3,3"/>
<line x1="0" y1="903.5" x2="1626" y2="903.5" stroke="#c0c0c0" stroke-width="1" stroke-dasharray="3,3"/>
<polyline points="-2.0,847.0 6.5,853.4 14.5,850.3 22.5,848.2 30.5,844.4 38.5,838.2 46.5,836.7 54.5,838.6 62.5,843.6 70.5,843.9 78.5,864.2 86.5,854.9 94.5,856.1 102.5,855.2 110.5,855.7 118.5,859.8 126.5,857.0 134.5,857.6 142.5,858.0 150.5,860.7 158.5,849.4 166.5,854.9 174.5,846.3 182.5,844.7 190.5,846.8 198.5,849.8 206.5,850.1 214.5,847.8 222.5,830.7 230.5,847.5 238.5,845.0 246.5,846.1 254.5,836.7 262.5,835.3 270.5,844.8 278.5,836.3 286.5,836.2 294.5,828.1 302.5,826.1 310.5,821.0 318.5,830.1 326.5,826.8 334.5,832.5 342.5,827.2 350.5,824.6 358.5,827.3 366.5,833.4 374.5,839.3 382.5,838.9 390.5,838.9 398.5,838.3 406.5,846.2 414.5,847.7 422.5,862.5 430.5,858.6 438.5,860.3 446.5,854.9 454.5,847.5 462.5,864.1 470.5,856.6 478.5,857.4 486.5,856.6 494.5,855.9 502.5,855.1 510.5,859.8 518.5,867.5 526.5,866.5 534.5,871.0 542.5,863.3 550.5,863.7 558.5,875.1 566.5,876.0 574.5,875.8 582.5,877.1 590.5,877.2 598.5,881.9 606.5,884.6 614.5,888.0 622.5,878.3 630.5,880.1 638.5,867.5 646.5,852.0 654.5,832.3 662.5,841.9 670.5,842.2 678.5,840.5 686.5,845.4 694.5,851.6 702.5,849.9 710.5,840.6 718.5,844.5 726.5,846.5 734.5,842.5 742.5,853.8 750.5,850.5 758.5,850.1 766.5,842.5 774.5,849.6 782.5,847.9 790.5,850.3 798.5,840.8 806.5,831.7 814.5,829.4 822.5,830.7 830.5,834.8 838.5,831.5 846.5,821.7 854.5,821.6 862.5,816.0 870.5,812.1 878.5,807.8 886.5,806.6 894.5,802.2 902.5,812.0 910.5,816.1 918.5,814.7 926.5,813.9 934.5,827.0 942.5,832.6 950.5,845.5 958.5,837.2 966.5,848.0 974.5,845.3 982.5,853.7 990.5,846.7 998.5,841.8 1006.5,839.5 1014.5,837.4 1022.5,835.7 1030.5,826.7 1038.5,843.8 1046.5,854.1 1054.5,846.2 1062.5,849.4 1070.5,847.9 1078.5,863.0 1086.5,877.0 1094.5,876.9 1102.5,866.6 1110.5,868.9 1118.5,857.0 1126.5,855.2 1134.5,841.7 1142.5,843.2 1150.5,846.3 1158.5,846.4 1166.5,852.1 1174.5,855.6 1182.5,868.3 1190.5,854.3 1198.5,856.8 1206.5,858.6 1214.5,865.3 1222.5,844.0 1230.5,848.7 1238.5,836.9 1246.5,833.3 1254.5,834.1 1262.5,829.8 1270.5,840.3 1278.5,844.8 1286.5,843.3 1294.5,841.8 1302.5,841.6 1310.5,839.9 1318.5,847.3 1326.5,834.5 1334.5,834.7" fill="none" stroke="#1e90ff" stroke-width="1" />
<rect x="62" y="928" width="1" height="3" fill="#000"/><rect x="126" y="928" width="1" height="3" fill="#000"/><rect x="190" y="928" width="1" height="3" fill="#000"/><rect x="254" y="928" width="1" height="3" fill="#000"/><rect x="318" y="928" width="1" height="3" fill="#000"/><rect x="382" y="928" width="1" height="3" fill="#000"/><rect x="446" y="928" width="1" height="3" fill="#000"/><rect x="510" y="928" width="1" height="3" fill="#000"/><rect x="574" y="928" width="1" height="3" fill="#000"/><rect x="638" y="928" width="1" height="3" fill="#000"/><rect x="702" y="928" width="1" height="3" fill="#000"/><rect x="766" y="928" width="1" height="3" fill="#000"/><rect x="830" y="928" width="1" height="3" fill="#000"/><rect x="894" y="928" width="1" height="3" fill="#000"/><rect x="958" y="928" width="1" height="3" fill="#000"/><rect x="1022" y="928" width="1" height="3" fill="#000"/><rect x="1086" y="928" width="1" height="3" fill="#000"/><rect x="1150" y="928" width="1" height="3" fill="#000"/><rect x="1214" y="928" width="1" height="3" fill="#000"/><rect x="1278" y="928" width="1" height="3" fill="#000"/></svg>
<div class="ax" style="top:42.5px">1.29870</div>
<div class="ax" style="top:76.5px">1.29730</div>
<div class="ax" style="top:109.5px">1.29590</div>
<div class="ax" style="top:142.5px">1.29450</div>
<div class="ax" style="top:175.5px">1.29310</div>
<div class="ax" style="top:208.5px">1.29170</div>
<div class="ax" style="top:241.5px">1.29030</div>
<div class="ax" style="top:274.5px">1.28890</div>
<div class="ax" style="top:307.5px">1.28750</div>
<div class="ax" style="top:341.5px">1.28610</div>
<div class="ax" style="top:374.5px">1.28470</div>
<div class="ax" style="top:407.5px">1.28330</div>
<div class="ax" style="top:440.5px">1.28190</div>
<div class="ax" style="top:473.5px">1.28050</div>
<div class="ax" style="top:506.5px">1.27910</div>
<div class="ax" style="top:539.5px">1.27770</div>
<div class="ax" style="top:572.5px">1.27630</div>
<div class="pl" style="top:85px;background:#ff4500;color:#fff"><span>1.29684</span></div>
<div class="pl" style="top:123px;background:#ff4500;color:#fff"><span>1.29524</span></div>
<div class="pl" style="top:167px;background:#000;color:#fff"><span>1.29342</span></div>
<div class="pl" style="top:202px;background:#32cd32;color:#fff"><span>1.29190</span></div>
<div class="pl" style="top:244px;background:#0000ff;color:#fff"><span>1.29013</span></div>
<div class="pl" style="top:287px;background:#0000ff;color:#fff"><span>1.28833</span></div>
<svg class="abs" style="left:1px;top:33px" width="8" height="6" viewBox="0 0 8 6"><path d="M0 5 L3.5 0.8 L7 5 Z" fill="#000"/></svg>
<div class="tt" id="title" style="left:13.3px;top:30.3px">GBPUSD-,H4&nbsp; 1.29348 1.29408 1.29146 1.29342</div>
<div class="tt" id="macdt" style="left:1.9px;top:586px">MACD(12,26,9) 0.000994 0.000787</div>
<div class="tt" id="rsit" style="left:1.9px;top:771px">RSI(14) 57.9273</div>
<div class="abs" style="left:0;top:46px;width:222px;height:66px;background:#fff"></div>
<div class="abs" style="left:1px;top:47px;width:52px;height:24px;background:linear-gradient(#5252fa,#3a3ae2);box-sizing:border-box;border:1px solid #1414c0;border-bottom:none"></div>
<div class="abs" style="left:168px;top:47px;width:52px;height:24px;background:linear-gradient(#5252fa,#3a3ae2);box-sizing:border-box;border:1px solid #1414c0;border-bottom:none"></div>
<div class="abs" style="left:1px;top:71px;width:109px;height:40px;background:linear-gradient(#3434dc 0%,#2222cc 45%,#0606ae 85%,#0000a6 100%);box-sizing:border-box;border:1px solid #0c0cb4;border-top:none"></div>
<div class="abs" style="left:112px;top:71px;width:108px;height:40px;background:linear-gradient(#3434dc 0%,#2222cc 45%,#0606ae 85%,#0000a6 100%);box-sizing:border-box;border:1px solid #0c0cb4;border-top:none"></div>
<div class="abs" style="left:5px;top:70px;width:44px;height:1px;background:#1010b8"></div><div class="abs" style="left:5px;top:71px;width:44px;height:1px;background:#7c7cf4"></div>
<div class="abs" style="left:172px;top:70px;width:44px;height:1px;background:#1010b8"></div><div class="abs" style="left:172px;top:71px;width:44px;height:1px;background:#7c7cf4"></div>
<div class="t" id="sell" style="left:0px;top:51px;width:52px;text-align:center;color:#eeeeff;font-size:12.2px;line-height:16px;height:16px;letter-spacing:-1.25px">SELL</div>
<div class="t" id="buy" style="left:167.4px;top:51px;width:52px;text-align:center;color:#eeeeff;font-size:12.2px;line-height:16px;height:16px;letter-spacing:-1.0px">BUY</div>
<div class="abs" style="left:55px;top:47px;width:111px;height:22px;box-sizing:border-box;border:1px solid #a8a8a8;background:#fff"></div>
<div class="abs" style="left:56px;top:48px;width:20px;height:20px;background:linear-gradient(#f2f2f2,#dedede);border-right:1px solid #b0b0b0"></div>
<div class="abs" style="left:144px;top:48px;width:21px;height:20px;background:linear-gradient(#f2f2f2,#dedede);border-left:1px solid #b0b0b0"></div>
<svg class="abs" style="left:62.5px;top:56px" width="6" height="4" viewBox="0 0 6 4"><path d="M0 0 H6 L3 3.2 Z" fill="#000"/></svg>
<svg class="abs" style="left:151.5px;top:55px" width="6" height="4" viewBox="0 0 6 4"><path d="M0 4 H6 L3 0.8 Z" fill="#000"/></svg>
<div class="t" id="lot" style="left:100px;top:50px;width:41px;text-align:right;font-size:12px;line-height:16px;height:16px">1.00</div>
<div class="t" id="sa" style="left:21.3px;top:89.3px;color:#fff;font-weight:bold;font-size:12.5px;line-height:16px;height:16px;letter-spacing:-0.35px">1.29</div>
<div class="t" id="sb" style="left:48.3px;top:70.5px;color:#fff;font-size:34.8px;line-height:40px;height:40px;letter-spacing:-1.5px">34</div>
<div class="t" id="sc" style="left:88.3px;top:74px;color:#fff;font-weight:bold;font-size:12.8px;line-height:16px;height:16px">2</div>
<div class="t" id="ba" style="left:131.3px;top:89.3px;color:#fff;font-weight:bold;font-size:12.5px;line-height:16px;height:16px;letter-spacing:-0.35px">1.29</div>
<div class="t" id="bb" style="left:158.8px;top:70.5px;color:#fff;font-size:34.8px;line-height:40px;height:40px;letter-spacing:-1.5px">36</div>
<div class="t" id="bc" style="left:199.8px;top:74px;color:#fff;font-weight:bold;font-size:12.8px;line-height:16px;height:16px">3</div>
<div class="abs" style="left:1228px;top:203px;width:127px;height:11px;background:#00ff00"></div>
<div class="abs" style="left:1479px;top:208px;width:9px;height:1px;background:#ff0000"></div>
<div class="abs" style="left:1486px;top:206px;width:4px;height:4px;box-sizing:border-box;border:1px solid #ff0000;background:#fff"></div>
<div class="abs" id="redbox" style="left:1489px;top:192px;width:100px;height:33px;box-sizing:border-box;border:1px solid #ff0000;background:#fff;color:#ff0000;font-size:29.5px;line-height:33px;white-space:nowrap;overflow:hidden"><span style="display:block;transform:scaleX(0.92);transform-origin:0 0;margin-left:0px">1.29190</span></div>
<div class="abs" id="cn" style="left:1368.5px;top:250.5px;font-family:'Liberation Serif','Noto Serif CJK SC',serif;font-weight:600;font-size:30px;line-height:46px;height:46px;white-space:nowrap;color:#00f400;text-shadow:1px 1px 0 #0a640a;letter-spacing:2.9px">多空转折点</div>
<div class="tl" style="left:-3.2px">22 Oct 2019</div>
<div class="tl" style="left:60.8px">24 Oct 04:00</div>
<div class="tl" style="left:124.8px">25 Oct 12:00</div>
<div class="tl" style="left:188.8px">28 Oct 20:00</div>
<div class="tl" style="left:252.8px">30 Oct 04:00</div>
<div class="tl" style="left:316.8px">31 Oct 12:00</div>
<div class="tl" style="left:380.8px">3 Nov 23:00</div>
<div class="tl" style="left:444.8px">5 Nov 04:00</div>
<div class="tl" style="left:508.8px">6 Nov 12:00</div>
<div class="tl" style="left:572.8px">7 Nov 20:00</div>
<div class="tl" style="left:636.8px">11 Nov 04:00</div>
<div class="tl" style="left:700.8px">12 Nov 12:00</div>
<div class="tl" style="left:764.8px">13 Nov 20:00</div>
<div class="tl" style="left:828.8px">15 Nov 04:00</div>
<div class="tl" style="left:892.8px">18 Nov 12:00</div>
<div class="tl" style="left:956.8px">19 Nov 20:00</div>
<div class="tl" style="left:1020.8px">21 Nov 04:00</div>
<div class="tl" style="left:1084.8px">22 Nov 12:00</div>
<div class="tl" style="left:1148.8px">25 Nov 20:00</div>
<div class="tl" style="left:1212.8px">27 Nov 04:00</div>
<div class="tl" style="left:1276.8px">28 Nov 12:00</div>
<div class="ax" style="left:1630px;top:585px">0.007452</div>
<div class="ax" style="left:1630px;top:705.5px">0.00</div>
<div class="ax" style="left:1630px;top:753.5px">-0.003218</div>
<div class="ax" style="left:1630px;top:769.5px">100</div>
<div class="ax" style="left:1630px;top:795px">80</div>
<div class="ax" style="left:1630px;top:842px">50</div>
<div class="ax" style="left:1630px;top:898.5px">15</div>
<div class="ax" style="left:1630px;top:915.5px">0</div>
</body></html>
